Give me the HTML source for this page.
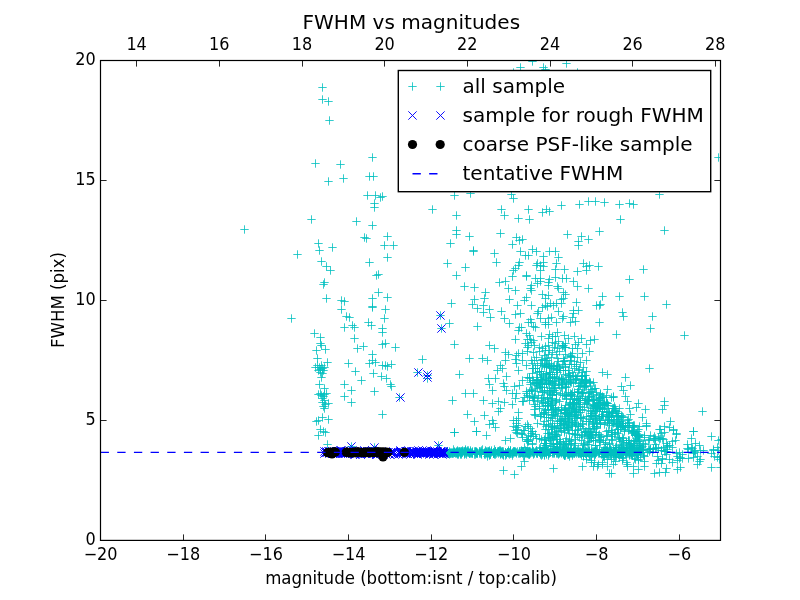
<!DOCTYPE html>
<html><head><meta charset="utf-8"><title>FWHM vs magnitudes</title>
<style>html,body{margin:0;padding:0;background:#fff}svg text{white-space:pre}</style></head>
<body>
<svg width="800" height="600" viewBox="0 0 800 600" style="display:block;will-change:transform">
<rect width="800" height="600" fill="#fff"/>
<defs><clipPath id="ax"><rect x="100.5" y="60.5" width="620" height="480"/></clipPath></defs>
<g clip-path="url(#ax)">
<path d="M318.3 87.5h8.4M322.5 83.3v8.4M368.3 157.5h8.4M372.5 153.3v8.4M371.3 195.5h8.4M375.5 191.3v8.4M428.3 209.5h8.4M432.5 205.3v8.4M383.3 236.5h8.4M387.5 232.3v8.4M293.3 254.5h8.4M297.5 250.3v8.4M372.3 275.5h8.4M376.5 271.3v8.4M337.3 300.5h8.4M341.5 296.3v8.4M337.3 309.5h8.4M341.5 305.3v8.4M340.3 327.5h8.4M344.5 323.3v8.4M378.3 332.5h8.4M382.5 328.3v8.4M312.3 350.5h8.4M316.5 346.3v8.4M391.3 347.5h8.4M395.5 343.3v8.4M368.3 360.5h8.4M372.5 356.3v8.4M387.3 364.5h8.4M391.5 360.3v8.4M319.3 370.5h8.4M323.5 366.3v8.4M317.3 377.5h8.4M321.5 373.3v8.4M386.3 384.5h8.4M390.5 380.3v8.4M370.3 391.5h8.4M374.5 387.3v8.4M319.3 396.5h8.4M323.5 392.3v8.4M321.3 404.5h8.4M325.5 400.3v8.4M423.3 378.5h8.4M427.5 374.3v8.4M316.3 429.5h8.4M320.5 425.3v8.4M584.3 201.5h8.4M588.5 197.3v8.4M525.3 219.5h8.4M529.5 215.3v8.4M452.3 234.5h8.4M456.5 230.3v8.4M563.3 234.5h8.4M567.5 230.3v8.4M508.3 244.5h8.4M512.5 240.3v8.4M492.3 262.5h8.4M496.5 258.3v8.4M480.3 298.5h8.4M484.5 294.3v8.4M615.3 204.5h8.4M619.5 200.3v8.4M625.3 279.5h8.4M629.5 275.3v8.4M619.3 316.5h8.4M623.5 312.3v8.4M598.3 372.5h8.4M602.5 368.3v8.4M621.3 396.5h8.4M625.5 392.3v8.4M634.3 403.5h8.4M638.5 399.3v8.4M642.3 425.5h8.4M646.5 421.3v8.4M655.3 429.5h8.4M659.5 425.3v8.4M654.3 437.5h8.4M658.5 433.3v8.4M655.3 472.5h8.4M659.5 468.3v8.4M707.3 436.5h8.4M711.5 432.3v8.4M672.3 433.5h8.4M676.5 429.3v8.4M683.3 448.5h8.4M687.5 444.3v8.4M673.3 460.5h8.4M677.5 456.3v8.4M668.3 462.5h8.4M672.5 458.3v8.4M640.3 461.5h8.4M644.5 457.3v8.4M655.3 194.5h8.4M659.5 190.3v8.4M562.3 63.5h8.4M566.5 59.3v8.4M455.3 374.5h8.4M459.5 370.3v8.4M450.3 432.5h8.4M454.5 428.3v8.4M499.3 470.5h8.4M503.5 466.3v8.4M513.3 433.5h8.4M517.5 429.3v8.4M423.3 375.5h8.4M427.5 371.3v8.4M513.3 305.5h8.4M517.5 301.3v8.4M538.3 307.5h8.4M542.5 303.3v8.4M554.3 311.5h8.4M558.5 307.3v8.4M496.3 365.5h8.4M500.5 361.3v8.4M522.3 365.5h8.4M526.5 361.3v8.4M499.3 383.5h8.4M503.5 379.3v8.4M479.3 400.5h8.4M483.5 396.3v8.4M508.3 404.5h8.4M512.5 400.3v8.4M491.3 427.5h8.4M495.5 423.3v8.4M501.3 440.5h8.4M505.5 436.3v8.4M521.3 255.5h8.4M525.5 251.3v8.4M551.3 251.5h8.4M555.5 247.3v8.4M509.3 270.5h8.4M513.5 266.3v8.4M536.3 270.5h8.4M540.5 266.3v8.4M585.3 265.5h8.4M589.5 261.3v8.4M522.3 275.5h8.4M526.5 271.3v8.4M551.3 277.5h8.4M555.5 273.3v8.4M527.3 285.5h8.4M531.5 281.3v8.4M553.3 286.5h8.4M557.5 282.3v8.4M541.3 298.5h8.4M545.5 294.3v8.4M522.3 297.5h8.4M526.5 293.3v8.4M514.3 330.5h8.4M518.5 326.3v8.4M526.3 319.5h8.4M530.5 315.3v8.4M524.3 345.5h8.4M528.5 341.3v8.4M541.3 324.5h8.4M545.5 320.3v8.4M537.3 336.5h8.4M541.5 332.3v8.4M541.3 346.5h8.4M545.5 342.3v8.4M553.3 348.5h8.4M557.5 344.3v8.4M504.3 354.5h8.4M508.5 350.3v8.4M529.3 352.5h8.4M533.5 348.3v8.4M552.3 354.5h8.4M556.5 350.3v8.4M572.3 302.5h8.4M576.5 298.3v8.4M574.3 310.5h8.4M578.5 306.3v8.4M566.3 322.5h8.4M570.5 318.3v8.4M574.3 342.5h8.4M578.5 338.3v8.4M565.3 404.5h8.4M569.5 400.3v8.4M549.3 412.5h8.4M553.5 408.3v8.4M544.3 401.5h8.4M548.5 397.3v8.4M573.3 357.5h8.4M577.5 353.3v8.4M580.3 402.5h8.4M584.5 398.3v8.4M556.3 425.5h8.4M560.5 421.3v8.4M635.3 426.5h8.4M639.5 422.3v8.4M548.3 381.5h8.4M552.5 377.3v8.4M590.3 455.5h8.4M594.5 451.3v8.4M578.3 393.5h8.4M582.5 389.3v8.4M542.3 443.5h8.4M546.5 439.3v8.4M515.3 385.5h8.4M519.5 381.3v8.4M570.3 402.5h8.4M574.5 398.3v8.4M640.3 456.5h8.4M644.5 452.3v8.4M540.3 392.5h8.4M544.5 388.3v8.4M586.3 382.5h8.4M590.5 378.3v8.4M564.3 430.5h8.4M568.5 426.3v8.4M514.3 453.5h8.4M518.5 449.3v8.4M567.3 364.5h8.4M571.5 360.3v8.4M607.3 397.5h8.4M611.5 393.3v8.4M566.3 381.5h8.4M570.5 377.3v8.4M542.3 379.5h8.4M546.5 375.3v8.4M589.3 394.5h8.4M593.5 390.3v8.4M585.3 381.5h8.4M589.5 377.3v8.4M618.3 460.5h8.4M622.5 456.3v8.4M606.3 455.5h8.4M610.5 451.3v8.4M570.3 392.5h8.4M574.5 388.3v8.4M546.3 449.5h8.4M550.5 445.3v8.4M574.3 370.5h8.4M578.5 366.3v8.4M539.3 413.5h8.4M543.5 409.3v8.4M612.3 425.5h8.4M616.5 421.3v8.4M549.3 444.5h8.4M553.5 440.3v8.4M587.3 462.5h8.4M591.5 458.3v8.4M615.3 423.5h8.4M619.5 419.3v8.4M624.3 430.5h8.4M628.5 426.3v8.4M585.3 393.5h8.4M589.5 389.3v8.4M636.3 457.5h8.4M640.5 453.3v8.4M590.3 415.5h8.4M594.5 411.3v8.4M562.3 399.5h8.4M566.5 395.3v8.4M543.3 390.5h8.4M547.5 386.3v8.4M577.3 375.5h8.4M581.5 371.3v8.4M584.3 400.5h8.4M588.5 396.3v8.4M564.3 427.5h8.4M568.5 423.3v8.4M561.3 413.5h8.4M565.5 409.3v8.4M561.3 421.5h8.4M565.5 417.3v8.4M596.3 437.5h8.4M600.5 433.3v8.4M635.3 449.5h8.4M639.5 445.3v8.4M624.3 440.5h8.4M628.5 436.3v8.4M527.3 360.5h8.4M531.5 356.3v8.4M589.3 413.5h8.4M593.5 409.3v8.4M614.3 437.5h8.4M618.5 433.3v8.4M542.3 383.5h8.4M546.5 379.3v8.4M546.3 372.5h8.4M550.5 368.3v8.4M565.3 413.5h8.4M569.5 409.3v8.4M628.3 426.5h8.4M632.5 422.3v8.4M558.3 379.5h8.4M562.5 375.3v8.4M639.3 452.5h8.4M643.5 448.3v8.4M627.3 443.5h8.4M631.5 439.3v8.4M577.3 452.5h8.4M581.5 448.3v8.4M550.3 448.5h8.4M554.5 444.3v8.4M548.3 398.5h8.4M552.5 394.3v8.4M591.3 454.5h8.4M595.5 450.3v8.4M586.3 383.5h8.4M590.5 379.3v8.4M574.3 404.5h8.4M578.5 400.3v8.4M572.3 403.5h8.4M576.5 399.3v8.4M578.3 372.5h8.4M582.5 368.3v8.4M614.3 413.5h8.4M618.5 409.3v8.4M571.3 411.5h8.4M575.5 407.3v8.4M564.3 443.5h8.4M568.5 439.3v8.4M548.3 405.5h8.4M552.5 401.3v8.4M550.3 434.5h8.4M554.5 430.3v8.4M553.3 443.5h8.4M557.5 439.3v8.4M596.3 407.5h8.4M600.5 403.3v8.4M628.3 455.5h8.4M632.5 451.3v8.4M566.3 402.5h8.4M570.5 398.3v8.4M526.3 382.5h8.4M530.5 378.3v8.4M567.3 443.5h8.4M571.5 439.3v8.4M575.3 386.5h8.4M579.5 382.3v8.4M595.3 440.5h8.4M599.5 436.3v8.4M629.3 446.5h8.4M633.5 442.3v8.4M555.3 401.5h8.4M559.5 397.3v8.4M558.3 346.5h8.4M562.5 342.3v8.4M538.3 381.5h8.4M542.5 377.3v8.4M598.3 411.5h8.4M602.5 407.3v8.4M553.3 444.5h8.4M557.5 440.3v8.4M573.3 452.5h8.4M577.5 448.3v8.4M588.3 389.5h8.4M592.5 385.3v8.4M616.3 421.5h8.4M620.5 417.3v8.4M543.3 397.5h8.4M547.5 393.3v8.4M577.3 455.5h8.4M581.5 451.3v8.4M559.3 379.5h8.4M563.5 375.3v8.4M548.3 403.5h8.4M552.5 399.3v8.4M582.3 380.5h8.4M586.5 376.3v8.4M528.3 444.5h8.4M532.5 440.3v8.4M559.3 345.5h8.4M563.5 341.3v8.4M577.3 380.5h8.4M581.5 376.3v8.4M593.3 402.5h8.4M597.5 398.3v8.4M550.3 436.5h8.4M554.5 432.3v8.4M564.3 375.5h8.4M568.5 371.3v8.4M538.3 402.5h8.4M542.5 398.3v8.4M533.3 380.5h8.4M537.5 376.3v8.4M564.3 419.5h8.4M568.5 415.3v8.4M634.3 469.5h8.4M638.5 465.3v8.4M636.3 445.5h8.4M640.5 441.3v8.4M596.3 424.5h8.4M600.5 420.3v8.4M578.3 392.5h8.4M582.5 388.3v8.4M528.3 431.5h8.4M532.5 427.3v8.4M524.3 441.5h8.4M528.5 437.3v8.4M629.3 431.5h8.4M633.5 427.3v8.4M529.3 368.5h8.4M533.5 364.3v8.4M621.3 427.5h8.4M625.5 423.3v8.4M574.3 412.5h8.4M578.5 408.3v8.4M540.3 412.5h8.4M544.5 408.3v8.4M595.3 434.5h8.4M599.5 430.3v8.4M540.3 387.5h8.4M544.5 383.3v8.4M568.3 433.5h8.4M572.5 429.3v8.4M591.3 445.5h8.4M595.5 441.3v8.4M629.3 466.5h8.4M633.5 462.3v8.4M566.3 376.5h8.4M570.5 372.3v8.4M588.3 453.5h8.4M592.5 449.3v8.4M555.3 385.5h8.4M559.5 381.3v8.4M592.3 426.5h8.4M596.5 422.3v8.4M595.3 407.5h8.4M599.5 403.3v8.4M525.3 377.5h8.4M529.5 373.3v8.4M563.3 422.5h8.4M567.5 418.3v8.4M556.3 393.5h8.4M560.5 389.3v8.4M567.3 412.5h8.4M571.5 408.3v8.4M571.3 443.5h8.4M575.5 439.3v8.4M577.3 379.5h8.4M581.5 375.3v8.4M548.3 382.5h8.4M552.5 378.3v8.4M528.3 390.5h8.4M532.5 386.3v8.4M554.3 410.5h8.4M558.5 406.3v8.4M613.3 426.5h8.4M617.5 422.3v8.4M624.3 423.5h8.4M628.5 419.3v8.4M573.3 398.5h8.4M577.5 394.3v8.4M631.3 435.5h8.4M635.5 431.3v8.4M536.3 416.5h8.4M540.5 412.3v8.4M537.3 414.5h8.4M541.5 410.3v8.4M522.3 393.5h8.4M526.5 389.3v8.4M567.3 394.5h8.4M571.5 390.3v8.4M615.3 438.5h8.4M619.5 434.3v8.4M634.3 435.5h8.4M638.5 431.3v8.4M540.3 439.5h8.4M544.5 435.3v8.4M580.3 387.5h8.4M584.5 383.3v8.4M596.3 405.5h8.4M600.5 401.3v8.4M595.3 439.5h8.4M599.5 435.3v8.4M623.3 425.5h8.4M627.5 421.3v8.4M556.3 421.5h8.4M560.5 417.3v8.4M552.3 436.5h8.4M556.5 432.3v8.4M584.3 410.5h8.4M588.5 406.3v8.4M585.3 351.5h8.4M589.5 347.3v8.4M526.3 436.5h8.4M530.5 432.3v8.4M576.3 417.5h8.4M580.5 413.3v8.4M579.3 418.5h8.4M583.5 414.3v8.4M608.3 440.5h8.4M612.5 436.3v8.4M582.3 379.5h8.4M586.5 375.3v8.4M549.3 446.5h8.4M553.5 442.3v8.4M541.3 402.5h8.4M545.5 398.3v8.4M541.3 443.5h8.4M545.5 439.3v8.4M522.3 391.5h8.4M526.5 387.3v8.4M585.3 435.5h8.4M589.5 431.3v8.4M528.3 368.5h8.4M532.5 364.3v8.4M572.3 423.5h8.4M576.5 419.3v8.4M542.3 367.5h8.4M546.5 363.3v8.4M571.3 430.5h8.4M575.5 426.3v8.4M620.3 431.5h8.4M624.5 427.3v8.4M610.3 420.5h8.4M614.5 416.3v8.4M567.3 356.5h8.4M571.5 352.3v8.4M560.3 430.5h8.4M564.5 426.3v8.4M581.3 386.5h8.4M585.5 382.3v8.4M536.3 387.5h8.4M540.5 383.3v8.4M593.3 408.5h8.4M597.5 404.3v8.4M543.3 360.5h8.4M547.5 356.3v8.4M560.3 455.5h8.4M564.5 451.3v8.4M605.3 423.5h8.4M609.5 419.3v8.4M511.3 398.5h8.4M515.5 394.3v8.4M575.3 398.5h8.4M579.5 394.3v8.4M627.3 431.5h8.4M631.5 427.3v8.4M574.3 425.5h8.4M578.5 421.3v8.4M561.3 452.5h8.4M565.5 448.3v8.4M556.3 451.5h8.4M560.5 447.3v8.4M489.3 453.5h8.4M493.5 449.3v8.4M504.3 451.5h8.4M508.5 447.3v8.4M615.3 452.5h8.4M619.5 448.3v8.4M628.3 453.5h8.4M632.5 449.3v8.4M476.3 453.5h8.4M480.5 449.3v8.4M458.3 452.5h8.4M462.5 448.3v8.4M502.3 453.5h8.4M506.5 449.3v8.4M546.3 452.5h8.4M550.5 448.3v8.4M591.3 451.5h8.4M595.5 447.3v8.4M606.3 452.5h8.4M610.5 448.3v8.4M562.3 452.5h8.4M566.5 448.3v8.4M564.3 454.5h8.4M568.5 450.3v8.4M606.3 451.5h8.4M610.5 447.3v8.4M629.3 452.5h8.4M633.5 448.3v8.4M463.3 451.5h8.4M467.5 447.3v8.4M541.3 452.5h8.4M545.5 448.3v8.4M532.3 452.5h8.4M536.5 448.3v8.4M521.3 453.5h8.4M525.5 449.3v8.4M503.3 452.5h8.4M507.5 448.3v8.4M510.3 451.5h8.4M514.5 447.3v8.4M506.3 453.5h8.4M510.5 449.3v8.4M465.3 453.5h8.4M469.5 449.3v8.4M619.3 451.5h8.4M623.5 447.3v8.4M606.3 449.5h8.4M610.5 445.3v8.4M472.3 453.5h8.4M476.5 449.3v8.4M555.3 451.5h8.4M559.5 447.3v8.4M442.3 451.5h8.4M446.5 447.3v8.4M452.3 452.5h8.4M456.5 448.3v8.4M603.3 452.5h8.4M607.5 448.3v8.4M574.3 453.5h8.4M578.5 449.3v8.4M575.3 453.5h8.4M579.5 449.3v8.4M447.3 452.5h8.4M451.5 448.3v8.4M528.3 449.5h8.4M532.5 445.3v8.4M457.3 454.5h8.4M461.5 450.3v8.4M520.3 455.5h8.4M524.5 451.3v8.4M619.3 450.5h8.4M623.5 446.3v8.4M530.3 452.5h8.4M534.5 448.3v8.4M460.3 452.5h8.4M464.5 448.3v8.4M460.3 452.5h8.4M464.5 448.3v8.4M506.3 453.5h8.4M510.5 449.3v8.4M489.3 452.5h8.4M493.5 448.3v8.4M617.3 450.5h8.4M621.5 446.3v8.4M453.3 454.5h8.4M457.5 450.3v8.4M525.3 451.5h8.4M529.5 447.3v8.4M570.3 453.5h8.4M574.5 449.3v8.4M541.3 451.5h8.4M545.5 447.3v8.4M481.3 454.5h8.4M485.5 450.3v8.4M612.3 453.5h8.4M616.5 449.3v8.4M582.3 452.5h8.4M586.5 448.3v8.4M606.3 452.5h8.4M610.5 448.3v8.4M565.3 452.5h8.4M569.5 448.3v8.4M453.3 452.5h8.4M457.5 448.3v8.4M504.3 452.5h8.4M508.5 448.3v8.4M633.3 454.5h8.4M637.5 450.3v8.4M504.3 452.5h8.4M508.5 448.3v8.4M579.3 449.5h8.4M583.5 445.3v8.4M557.3 453.5h8.4M561.5 449.3v8.4M505.3 452.5h8.4M509.5 448.3v8.4M457.3 451.5h8.4M461.5 447.3v8.4M482.3 453.5h8.4M486.5 449.3v8.4M454.3 451.5h8.4M458.5 447.3v8.4M518.3 451.5h8.4M522.5 447.3v8.4M602.3 452.5h8.4M606.5 448.3v8.4M464.3 452.5h8.4M468.5 448.3v8.4M584.3 451.5h8.4M588.5 447.3v8.4M571.3 452.5h8.4M575.5 448.3v8.4M582.3 451.5h8.4M586.5 447.3v8.4M630.3 452.5h8.4M634.5 448.3v8.4M539.3 452.5h8.4M543.5 448.3v8.4M456.3 451.5h8.4M460.5 447.3v8.4M621.3 451.5h8.4M625.5 447.3v8.4M558.3 452.5h8.4M562.5 448.3v8.4M532.3 452.5h8.4M536.5 448.3v8.4M549.3 451.5h8.4M553.5 447.3v8.4M579.3 454.5h8.4M583.5 450.3v8.4M590.3 451.5h8.4M594.5 447.3v8.4M561.3 453.5h8.4M565.5 449.3v8.4M629.3 449.5h8.4M633.5 445.3v8.4M592.3 452.5h8.4M596.5 448.3v8.4M475.3 451.5h8.4M479.5 447.3v8.4M621.3 451.5h8.4M625.5 447.3v8.4M512.3 452.5h8.4M516.5 448.3v8.4M603.3 451.5h8.4M607.5 447.3v8.4M485.3 453.5h8.4M489.5 449.3v8.4M579.3 453.5h8.4M583.5 449.3v8.4M606.3 452.5h8.4M610.5 448.3v8.4M567.3 452.5h8.4M571.5 448.3v8.4M598.3 453.5h8.4M602.5 449.3v8.4M494.3 451.5h8.4M498.5 447.3v8.4M633.3 452.5h8.4M637.5 448.3v8.4M453.3 451.5h8.4M457.5 447.3v8.4M555.3 452.5h8.4M559.5 448.3v8.4M465.3 453.5h8.4M469.5 449.3v8.4M484.3 451.5h8.4M488.5 447.3v8.4M472.3 451.5h8.4M476.5 447.3v8.4M555.3 453.5h8.4M559.5 449.3v8.4M585.3 454.5h8.4M589.5 450.3v8.4M605.3 450.5h8.4M609.5 446.3v8.4M485.3 455.5h8.4M489.5 451.3v8.4M595.3 451.5h8.4M599.5 447.3v8.4M503.3 452.5h8.4M507.5 448.3v8.4M638.3 446.5h8.4M642.5 442.3v8.4M644.3 449.5h8.4M648.5 445.3v8.4M654.3 460.5h8.4M658.5 456.3v8.4M646.3 448.5h8.4M650.5 444.3v8.4M642.3 426.5h8.4M646.5 422.3v8.4M659.3 447.5h8.4M663.5 443.3v8.4M672.3 453.5h8.4M676.5 449.3v8.4M658.3 458.5h8.4M662.5 454.3v8.4M689.3 457.5h8.4M693.5 453.3v8.4M695.3 461.5h8.4M699.5 457.3v8.4M707.3 453.5h8.4M711.5 449.3v8.4M709.3 449.5h8.4M713.5 445.3v8.4M323.3 444.5h8.4M327.5 440.3v8.4" stroke="#00bfbf" stroke-width="0.8" fill="none"/>
<path d="M318.3 99.5h8.4M322.5 95.3v8.4M339.3 178.5h8.4M343.5 174.3v8.4M376.3 197.5h8.4M380.5 193.3v8.4M307.3 219.5h8.4M311.5 215.3v8.4M314.3 243.5h8.4M318.5 239.3v8.4M383.3 257.5h8.4M387.5 253.3v8.4M374.3 274.5h8.4M378.5 270.3v8.4M340.3 301.5h8.4M344.5 297.3v8.4M381.3 309.5h8.4M385.5 305.3v8.4M348.3 325.5h8.4M352.5 321.3v8.4M310.3 333.5h8.4M314.5 329.3v8.4M321.3 349.5h8.4M325.5 345.3v8.4M368.3 354.5h8.4M372.5 350.3v8.4M371.3 362.5h8.4M375.5 358.3v8.4M311.3 367.5h8.4M315.5 363.3v8.4M316.3 372.5h8.4M320.5 368.3v8.4M351.3 371.5h8.4M355.5 367.3v8.4M387.3 386.5h8.4M391.5 382.3v8.4M340.3 396.5h8.4M344.5 392.3v8.4M320.3 394.5h8.4M324.5 390.3v8.4M324.3 403.5h8.4M328.5 399.3v8.4M395.3 397.5h8.4M399.5 393.3v8.4M319.3 431.5h8.4M323.5 427.3v8.4M591.3 201.5h8.4M595.5 197.3v8.4M538.3 212.5h8.4M542.5 208.3v8.4M465.3 236.5h8.4M469.5 232.3v8.4M577.3 236.5h8.4M581.5 232.3v8.4M469.3 250.5h8.4M473.5 246.3v8.4M452.3 275.5h8.4M456.5 271.3v8.4M470.3 299.5h8.4M474.5 295.3v8.4M625.3 203.5h8.4M629.5 199.3v8.4M598.3 296.5h8.4M602.5 292.3v8.4M648.3 316.5h8.4M652.5 312.3v8.4M603.3 374.5h8.4M607.5 370.3v8.4M609.3 396.5h8.4M613.5 392.3v8.4M641.3 409.5h8.4M645.5 405.3v8.4M666.3 421.5h8.4M670.5 417.3v8.4M657.3 433.5h8.4M661.5 429.3v8.4M623.3 401.5h8.4M627.5 397.3v8.4M661.3 472.5h8.4M665.5 468.3v8.4M714.3 440.5h8.4M718.5 436.3v8.4M671.3 440.5h8.4M675.5 436.3v8.4M687.3 447.5h8.4M691.5 443.3v8.4M676.3 467.5h8.4M680.5 463.3v8.4M657.3 463.5h8.4M661.5 459.3v8.4M450.3 195.5h8.4M454.5 191.3v8.4M509.3 72.5h8.4M513.5 68.3v8.4M573.3 72.5h8.4M577.5 68.3v8.4M461.3 393.5h8.4M465.5 389.3v8.4M472.3 431.5h8.4M476.5 427.3v8.4M510.3 474.5h8.4M514.5 470.3v8.4M520.3 430.5h8.4M524.5 426.3v8.4M479.3 305.5h8.4M483.5 301.3v8.4M511.3 314.5h8.4M515.5 310.3v8.4M541.3 305.5h8.4M545.5 301.3v8.4M485.3 345.5h8.4M489.5 341.3v8.4M498.3 368.5h8.4M502.5 364.3v8.4M484.3 378.5h8.4M488.5 374.3v8.4M502.3 390.5h8.4M506.5 386.3v8.4M488.3 403.5h8.4M492.5 399.3v8.4M519.3 401.5h8.4M523.5 397.3v8.4M509.3 420.5h8.4M513.5 416.3v8.4M506.3 438.5h8.4M510.5 434.3v8.4M524.3 255.5h8.4M528.5 251.3v8.4M554.3 257.5h8.4M558.5 253.3v8.4M533.3 263.5h8.4M537.5 259.3v8.4M552.3 263.5h8.4M556.5 259.3v8.4M594.3 266.5h8.4M598.5 262.3v8.4M522.3 276.5h8.4M526.5 272.3v8.4M558.3 278.5h8.4M562.5 274.3v8.4M526.3 288.5h8.4M530.5 284.3v8.4M554.3 288.5h8.4M558.5 284.3v8.4M559.3 292.5h8.4M563.5 288.3v8.4M520.3 300.5h8.4M524.5 296.3v8.4M511.3 339.5h8.4M515.5 335.3v8.4M522.3 333.5h8.4M526.5 329.3v8.4M527.3 342.5h8.4M531.5 338.3v8.4M544.3 324.5h8.4M548.5 320.3v8.4M545.3 334.5h8.4M549.5 330.3v8.4M544.3 345.5h8.4M548.5 341.3v8.4M541.3 350.5h8.4M545.5 346.3v8.4M514.3 353.5h8.4M518.5 349.3v8.4M535.3 351.5h8.4M539.5 347.3v8.4M555.3 351.5h8.4M559.5 347.3v8.4M557.3 303.5h8.4M561.5 299.3v8.4M569.3 313.5h8.4M573.5 309.3v8.4M595.3 322.5h8.4M599.5 318.3v8.4M571.3 344.5h8.4M575.5 340.3v8.4M562.3 395.5h8.4M566.5 391.3v8.4M616.3 426.5h8.4M620.5 422.3v8.4M601.3 442.5h8.4M605.5 438.3v8.4M594.3 464.5h8.4M598.5 460.3v8.4M562.3 398.5h8.4M566.5 394.3v8.4M585.3 419.5h8.4M589.5 415.3v8.4M585.3 441.5h8.4M589.5 437.3v8.4M594.3 435.5h8.4M598.5 431.3v8.4M603.3 435.5h8.4M607.5 431.3v8.4M613.3 433.5h8.4M617.5 429.3v8.4M600.3 404.5h8.4M604.5 400.3v8.4M550.3 390.5h8.4M554.5 386.3v8.4M562.3 448.5h8.4M566.5 444.3v8.4M535.3 408.5h8.4M539.5 404.3v8.4M555.3 428.5h8.4M559.5 424.3v8.4M530.3 396.5h8.4M534.5 392.3v8.4M560.3 360.5h8.4M564.5 356.3v8.4M558.3 395.5h8.4M562.5 391.3v8.4M630.3 443.5h8.4M634.5 439.3v8.4M602.3 454.5h8.4M606.5 450.3v8.4M564.3 449.5h8.4M568.5 445.3v8.4M540.3 364.5h8.4M544.5 360.3v8.4M548.3 446.5h8.4M552.5 442.3v8.4M556.3 441.5h8.4M560.5 437.3v8.4M633.3 441.5h8.4M637.5 437.3v8.4M568.3 392.5h8.4M572.5 388.3v8.4M616.3 453.5h8.4M620.5 449.3v8.4M541.3 429.5h8.4M545.5 425.3v8.4M542.3 373.5h8.4M546.5 369.3v8.4M574.3 400.5h8.4M578.5 396.3v8.4M546.3 420.5h8.4M550.5 416.3v8.4M568.3 399.5h8.4M572.5 395.3v8.4M578.3 424.5h8.4M582.5 420.3v8.4M576.3 362.5h8.4M580.5 358.3v8.4M605.3 444.5h8.4M609.5 440.3v8.4M575.3 451.5h8.4M579.5 447.3v8.4M511.3 430.5h8.4M515.5 426.3v8.4M578.3 435.5h8.4M582.5 431.3v8.4M614.3 416.5h8.4M618.5 412.3v8.4M599.3 404.5h8.4M603.5 400.3v8.4M598.3 453.5h8.4M602.5 449.3v8.4M580.3 386.5h8.4M584.5 382.3v8.4M531.3 368.5h8.4M535.5 364.3v8.4M599.3 456.5h8.4M603.5 452.3v8.4M525.3 391.5h8.4M529.5 387.3v8.4M597.3 416.5h8.4M601.5 412.3v8.4M554.3 361.5h8.4M558.5 357.3v8.4M618.3 425.5h8.4M622.5 421.3v8.4M598.3 462.5h8.4M602.5 458.3v8.4M602.3 395.5h8.4M606.5 391.3v8.4M533.3 365.5h8.4M537.5 361.3v8.4M587.3 415.5h8.4M591.5 411.3v8.4M584.3 421.5h8.4M588.5 417.3v8.4M545.3 384.5h8.4M549.5 380.3v8.4M595.3 453.5h8.4M599.5 449.3v8.4M605.3 443.5h8.4M609.5 439.3v8.4M557.3 410.5h8.4M561.5 406.3v8.4M635.3 440.5h8.4M639.5 436.3v8.4M582.3 403.5h8.4M586.5 399.3v8.4M547.3 366.5h8.4M551.5 362.3v8.4M542.3 445.5h8.4M546.5 441.3v8.4M546.3 378.5h8.4M550.5 374.3v8.4M553.3 421.5h8.4M557.5 417.3v8.4M585.3 428.5h8.4M589.5 424.3v8.4M529.3 400.5h8.4M533.5 396.3v8.4M537.3 451.5h8.4M541.5 447.3v8.4M628.3 447.5h8.4M632.5 443.3v8.4M536.3 363.5h8.4M540.5 359.3v8.4M530.3 414.5h8.4M534.5 410.3v8.4M589.3 466.5h8.4M593.5 462.3v8.4M560.3 347.5h8.4M564.5 343.3v8.4M547.3 404.5h8.4M551.5 400.3v8.4M581.3 431.5h8.4M585.5 427.3v8.4M549.3 390.5h8.4M553.5 386.3v8.4M565.3 433.5h8.4M569.5 429.3v8.4M573.3 435.5h8.4M577.5 431.3v8.4M603.3 412.5h8.4M607.5 408.3v8.4M564.3 392.5h8.4M568.5 388.3v8.4M618.3 426.5h8.4M622.5 422.3v8.4M634.3 436.5h8.4M638.5 432.3v8.4M548.3 423.5h8.4M552.5 419.3v8.4M564.3 416.5h8.4M568.5 412.3v8.4M580.3 436.5h8.4M584.5 432.3v8.4M544.3 380.5h8.4M548.5 376.3v8.4M567.3 425.5h8.4M571.5 421.3v8.4M588.3 424.5h8.4M592.5 420.3v8.4M568.3 353.5h8.4M572.5 349.3v8.4M603.3 466.5h8.4M607.5 462.3v8.4M605.3 412.5h8.4M609.5 408.3v8.4M542.3 414.5h8.4M546.5 410.3v8.4M530.3 404.5h8.4M534.5 400.3v8.4M576.3 426.5h8.4M580.5 422.3v8.4M540.3 440.5h8.4M544.5 436.3v8.4M590.3 452.5h8.4M594.5 448.3v8.4M548.3 437.5h8.4M552.5 433.3v8.4M576.3 410.5h8.4M580.5 406.3v8.4M572.3 379.5h8.4M576.5 375.3v8.4M603.3 420.5h8.4M607.5 416.3v8.4M622.3 442.5h8.4M626.5 438.3v8.4M573.3 348.5h8.4M577.5 344.3v8.4M617.3 451.5h8.4M621.5 447.3v8.4M533.3 372.5h8.4M537.5 368.3v8.4M567.3 410.5h8.4M571.5 406.3v8.4M564.3 383.5h8.4M568.5 379.3v8.4M540.3 366.5h8.4M544.5 362.3v8.4M606.3 449.5h8.4M610.5 445.3v8.4M584.3 453.5h8.4M588.5 449.3v8.4M631.3 440.5h8.4M635.5 436.3v8.4M573.3 417.5h8.4M577.5 413.3v8.4M623.3 447.5h8.4M627.5 443.3v8.4M570.3 416.5h8.4M574.5 412.3v8.4M555.3 378.5h8.4M559.5 374.3v8.4M540.3 455.5h8.4M544.5 451.3v8.4M624.3 440.5h8.4M628.5 436.3v8.4M589.3 382.5h8.4M593.5 378.3v8.4M602.3 402.5h8.4M606.5 398.3v8.4M590.3 428.5h8.4M594.5 424.3v8.4M613.3 416.5h8.4M617.5 412.3v8.4M544.3 429.5h8.4M548.5 425.3v8.4M560.3 427.5h8.4M564.5 423.3v8.4M526.3 384.5h8.4M530.5 380.3v8.4M622.3 462.5h8.4M626.5 458.3v8.4M548.3 377.5h8.4M552.5 373.3v8.4M562.3 413.5h8.4M566.5 409.3v8.4M607.3 430.5h8.4M611.5 426.3v8.4M629.3 430.5h8.4M633.5 426.3v8.4M514.3 425.5h8.4M518.5 421.3v8.4M559.3 424.5h8.4M563.5 420.3v8.4M567.3 440.5h8.4M571.5 436.3v8.4M591.3 445.5h8.4M595.5 441.3v8.4M612.3 411.5h8.4M616.5 407.3v8.4M560.3 451.5h8.4M564.5 447.3v8.4M572.3 364.5h8.4M576.5 360.3v8.4M551.3 436.5h8.4M555.5 432.3v8.4M612.3 415.5h8.4M616.5 411.3v8.4M638.3 450.5h8.4M642.5 446.3v8.4M614.3 429.5h8.4M618.5 425.3v8.4M620.3 429.5h8.4M624.5 425.3v8.4M622.3 448.5h8.4M626.5 444.3v8.4M557.3 379.5h8.4M561.5 375.3v8.4M608.3 413.5h8.4M612.5 409.3v8.4M591.3 406.5h8.4M595.5 402.3v8.4M563.3 414.5h8.4M567.5 410.3v8.4M590.3 388.5h8.4M594.5 384.3v8.4M611.3 410.5h8.4M615.5 406.3v8.4M544.3 382.5h8.4M548.5 378.3v8.4M618.3 458.5h8.4M622.5 454.3v8.4M569.3 383.5h8.4M573.5 379.3v8.4M569.3 375.5h8.4M573.5 371.3v8.4M570.3 368.5h8.4M574.5 364.3v8.4M600.3 402.5h8.4M604.5 398.3v8.4M626.3 446.5h8.4M630.5 442.3v8.4M550.3 414.5h8.4M554.5 410.3v8.4M609.3 419.5h8.4M613.5 415.3v8.4M561.3 394.5h8.4M565.5 390.3v8.4M566.3 403.5h8.4M570.5 399.3v8.4M523.3 395.5h8.4M527.5 391.3v8.4M534.3 382.5h8.4M538.5 378.3v8.4M598.3 397.5h8.4M602.5 393.3v8.4M574.3 429.5h8.4M578.5 425.3v8.4M538.3 382.5h8.4M542.5 378.3v8.4M532.3 438.5h8.4M536.5 434.3v8.4M549.3 414.5h8.4M553.5 410.3v8.4M612.3 447.5h8.4M616.5 443.3v8.4M629.3 473.5h8.4M633.5 469.3v8.4M537.3 380.5h8.4M541.5 376.3v8.4M614.3 419.5h8.4M618.5 415.3v8.4M522.3 439.5h8.4M526.5 435.3v8.4M607.3 421.5h8.4M611.5 417.3v8.4M596.3 423.5h8.4M600.5 419.3v8.4M584.3 397.5h8.4M588.5 393.3v8.4M576.3 400.5h8.4M580.5 396.3v8.4M544.3 437.5h8.4M548.5 433.3v8.4M569.3 405.5h8.4M573.5 401.3v8.4M608.3 436.5h8.4M612.5 432.3v8.4M520.3 397.5h8.4M524.5 393.3v8.4M539.3 376.5h8.4M543.5 372.3v8.4M568.3 404.5h8.4M572.5 400.3v8.4M601.3 405.5h8.4M605.5 401.3v8.4M594.3 453.5h8.4M598.5 449.3v8.4M501.3 455.5h8.4M505.5 451.3v8.4M614.3 450.5h8.4M618.5 446.3v8.4M628.3 455.5h8.4M632.5 451.3v8.4M498.3 451.5h8.4M502.5 447.3v8.4M458.3 451.5h8.4M462.5 447.3v8.4M578.3 450.5h8.4M582.5 446.3v8.4M467.3 452.5h8.4M471.5 448.3v8.4M483.3 453.5h8.4M487.5 449.3v8.4M624.3 453.5h8.4M628.5 449.3v8.4M522.3 453.5h8.4M526.5 449.3v8.4M566.3 452.5h8.4M570.5 448.3v8.4M574.3 448.5h8.4M578.5 444.3v8.4M523.3 452.5h8.4M527.5 448.3v8.4M601.3 452.5h8.4M605.5 448.3v8.4M531.3 451.5h8.4M535.5 447.3v8.4M540.3 451.5h8.4M544.5 447.3v8.4M633.3 454.5h8.4M637.5 450.3v8.4M525.3 452.5h8.4M529.5 448.3v8.4M601.3 451.5h8.4M605.5 447.3v8.4M540.3 454.5h8.4M544.5 450.3v8.4M482.3 452.5h8.4M486.5 448.3v8.4M496.3 450.5h8.4M500.5 446.3v8.4M499.3 451.5h8.4M503.5 447.3v8.4M571.3 451.5h8.4M575.5 447.3v8.4M495.3 450.5h8.4M499.5 446.3v8.4M597.3 451.5h8.4M601.5 447.3v8.4M470.3 451.5h8.4M474.5 447.3v8.4M455.3 452.5h8.4M459.5 448.3v8.4M490.3 449.5h8.4M494.5 445.3v8.4M465.3 452.5h8.4M469.5 448.3v8.4M461.3 451.5h8.4M465.5 447.3v8.4M491.3 451.5h8.4M495.5 447.3v8.4M535.3 452.5h8.4M539.5 448.3v8.4M538.3 451.5h8.4M542.5 447.3v8.4M538.3 451.5h8.4M542.5 447.3v8.4M525.3 452.5h8.4M529.5 448.3v8.4M633.3 453.5h8.4M637.5 449.3v8.4M569.3 450.5h8.4M573.5 446.3v8.4M496.3 453.5h8.4M500.5 449.3v8.4M448.3 452.5h8.4M452.5 448.3v8.4M564.3 453.5h8.4M568.5 449.3v8.4M629.3 451.5h8.4M633.5 447.3v8.4M618.3 453.5h8.4M622.5 449.3v8.4M570.3 453.5h8.4M574.5 449.3v8.4M585.3 453.5h8.4M589.5 449.3v8.4M602.3 451.5h8.4M606.5 447.3v8.4M512.3 453.5h8.4M516.5 449.3v8.4M485.3 452.5h8.4M489.5 448.3v8.4M525.3 454.5h8.4M529.5 450.3v8.4M572.3 453.5h8.4M576.5 449.3v8.4M517.3 451.5h8.4M521.5 447.3v8.4M553.3 453.5h8.4M557.5 449.3v8.4M451.3 452.5h8.4M455.5 448.3v8.4M598.3 451.5h8.4M602.5 447.3v8.4M485.3 454.5h8.4M489.5 450.3v8.4M536.3 453.5h8.4M540.5 449.3v8.4M548.3 452.5h8.4M552.5 448.3v8.4M521.3 450.5h8.4M525.5 446.3v8.4M610.3 451.5h8.4M614.5 447.3v8.4M592.3 452.5h8.4M596.5 448.3v8.4M617.3 453.5h8.4M621.5 449.3v8.4M484.3 453.5h8.4M488.5 449.3v8.4M609.3 450.5h8.4M613.5 446.3v8.4M462.3 454.5h8.4M466.5 450.3v8.4M569.3 451.5h8.4M573.5 447.3v8.4M506.3 450.5h8.4M510.5 446.3v8.4M497.3 452.5h8.4M501.5 448.3v8.4M529.3 454.5h8.4M533.5 450.3v8.4M551.3 450.5h8.4M555.5 446.3v8.4M454.3 453.5h8.4M458.5 449.3v8.4M623.3 452.5h8.4M627.5 448.3v8.4M614.3 451.5h8.4M618.5 447.3v8.4M473.3 453.5h8.4M477.5 449.3v8.4M493.3 452.5h8.4M497.5 448.3v8.4M626.3 451.5h8.4M630.5 447.3v8.4M634.3 454.5h8.4M638.5 450.3v8.4M598.3 453.5h8.4M602.5 449.3v8.4M600.3 451.5h8.4M604.5 447.3v8.4M509.3 451.5h8.4M513.5 447.3v8.4M528.3 452.5h8.4M532.5 448.3v8.4M457.3 453.5h8.4M461.5 449.3v8.4M468.3 453.5h8.4M472.5 449.3v8.4M541.3 451.5h8.4M545.5 447.3v8.4M462.3 452.5h8.4M466.5 448.3v8.4M550.3 451.5h8.4M554.5 447.3v8.4M519.3 452.5h8.4M523.5 448.3v8.4M452.3 453.5h8.4M456.5 449.3v8.4M486.3 454.5h8.4M490.5 450.3v8.4M526.3 453.5h8.4M530.5 449.3v8.4M471.3 452.5h8.4M475.5 448.3v8.4M452.3 452.5h8.4M456.5 448.3v8.4M628.3 450.5h8.4M632.5 446.3v8.4M611.3 452.5h8.4M615.5 448.3v8.4M522.3 451.5h8.4M526.5 447.3v8.4M611.3 450.5h8.4M615.5 446.3v8.4M535.3 450.5h8.4M539.5 446.3v8.4M625.3 453.5h8.4M629.5 449.3v8.4M510.3 452.5h8.4M514.5 448.3v8.4M634.3 453.5h8.4M638.5 449.3v8.4M609.3 452.5h8.4M613.5 448.3v8.4M510.3 451.5h8.4M514.5 447.3v8.4M444.3 453.5h8.4M448.5 449.3v8.4M649.3 438.5h8.4M653.5 434.3v8.4M639.3 450.5h8.4M643.5 446.3v8.4M652.3 463.5h8.4M656.5 459.3v8.4M654.3 448.5h8.4M658.5 444.3v8.4M662.3 468.5h8.4M666.5 464.3v8.4M663.3 449.5h8.4M667.5 445.3v8.4M663.3 445.5h8.4M667.5 441.3v8.4M657.3 450.5h8.4M661.5 446.3v8.4M678.3 458.5h8.4M682.5 454.3v8.4M688.3 448.5h8.4M692.5 444.3v8.4M717.3 456.5h8.4M721.5 452.3v8.4M713.3 457.5h8.4M717.5 453.3v8.4" stroke="#00bfbf" stroke-width="0.8" fill="none"/>
<path d="M324.3 101.5h8.4M328.5 97.3v8.4M324.3 181.5h8.4M328.5 177.3v8.4M378.3 196.5h8.4M382.5 192.3v8.4M352.3 221.5h8.4M356.5 217.3v8.4M328.3 247.5h8.4M332.5 243.3v8.4M317.3 261.5h8.4M321.5 257.3v8.4M320.3 282.5h8.4M324.5 278.3v8.4M368.3 298.5h8.4M372.5 294.3v8.4M342.3 316.5h8.4M346.5 312.3v8.4M350.3 327.5h8.4M354.5 323.3v8.4M316.3 337.5h8.4M320.5 333.3v8.4M353.3 348.5h8.4M357.5 344.3v8.4M313.3 358.5h8.4M317.5 354.3v8.4M418.3 359.5h8.4M422.5 355.3v8.4M313.3 365.5h8.4M317.5 361.3v8.4M314.3 370.5h8.4M318.5 366.3v8.4M369.3 373.5h8.4M373.5 369.3v8.4M340.3 384.5h8.4M344.5 380.3v8.4M347.3 402.5h8.4M351.5 398.3v8.4M322.3 393.5h8.4M326.5 389.3v8.4M319.3 406.5h8.4M323.5 402.3v8.4M312.3 421.5h8.4M316.5 417.3v8.4M321.3 432.5h8.4M325.5 428.3v8.4M497.3 209.5h8.4M501.5 205.3v8.4M542.3 209.5h8.4M546.5 205.3v8.4M496.3 233.5h8.4M500.5 229.3v8.4M574.3 241.5h8.4M578.5 237.3v8.4M469.3 251.5h8.4M473.5 247.3v8.4M495.3 282.5h8.4M499.5 278.3v8.4M468.3 304.5h8.4M472.5 300.3v8.4M629.3 204.5h8.4M633.5 200.3v8.4M615.3 296.5h8.4M619.5 292.3v8.4M612.3 334.5h8.4M616.5 330.3v8.4M621.3 377.5h8.4M625.5 373.3v8.4M603.3 389.5h8.4M607.5 385.3v8.4M632.3 407.5h8.4M636.5 403.3v8.4M665.3 427.5h8.4M669.5 423.3v8.4M689.3 431.5h8.4M693.5 427.3v8.4M625.3 408.5h8.4M629.5 404.3v8.4M707.3 467.5h8.4M711.5 463.3v8.4M709.3 450.5h8.4M713.5 446.3v8.4M656.3 429.5h8.4M660.5 425.3v8.4M684.3 458.5h8.4M688.5 454.3v8.4M673.3 469.5h8.4M677.5 465.3v8.4M658.3 459.5h8.4M662.5 455.3v8.4M466.3 193.5h8.4M470.5 189.3v8.4M516.3 67.5h8.4M520.5 63.3v8.4M445.3 323.5h8.4M449.5 319.3v8.4M469.3 393.5h8.4M473.5 389.3v8.4M512.3 420.5h8.4M516.5 416.3v8.4M517.3 466.5h8.4M521.5 462.3v8.4M524.3 435.5h8.4M528.5 431.3v8.4M479.3 312.5h8.4M483.5 308.3v8.4M516.3 313.5h8.4M520.5 309.3v8.4M543.3 306.5h8.4M547.5 302.3v8.4M490.3 348.5h8.4M494.5 344.3v8.4M493.3 370.5h8.4M497.5 366.3v8.4M491.3 378.5h8.4M495.5 374.3v8.4M500.3 386.5h8.4M504.5 382.3v8.4M494.3 401.5h8.4M498.5 397.3v8.4M480.3 415.5h8.4M484.5 411.3v8.4M512.3 423.5h8.4M516.5 419.3v8.4M519.3 430.5h8.4M523.5 426.3v8.4M528.3 249.5h8.4M532.5 245.3v8.4M574.3 245.5h8.4M578.5 241.3v8.4M532.3 265.5h8.4M536.5 261.3v8.4M551.3 269.5h8.4M555.5 265.3v8.4M573.3 271.5h8.4M577.5 267.3v8.4M531.3 278.5h8.4M535.5 274.3v8.4M562.3 278.5h8.4M566.5 274.3v8.4M527.3 290.5h8.4M531.5 286.3v8.4M573.3 286.5h8.4M577.5 282.3v8.4M561.3 294.5h8.4M565.5 290.3v8.4M500.3 318.5h8.4M504.5 314.3v8.4M524.3 322.5h8.4M528.5 318.3v8.4M525.3 335.5h8.4M529.5 331.3v8.4M529.3 340.5h8.4M533.5 336.3v8.4M541.3 322.5h8.4M545.5 318.3v8.4M548.3 336.5h8.4M552.5 332.3v8.4M548.3 342.5h8.4M552.5 338.3v8.4M538.3 348.5h8.4M542.5 344.3v8.4M518.3 353.5h8.4M522.5 349.3v8.4M532.3 357.5h8.4M536.5 353.3v8.4M542.3 358.5h8.4M546.5 354.3v8.4M592.3 305.5h8.4M596.5 301.3v8.4M559.3 316.5h8.4M563.5 312.3v8.4M560.3 335.5h8.4M564.5 331.3v8.4M561.3 343.5h8.4M565.5 339.3v8.4M587.3 432.5h8.4M591.5 428.3v8.4M581.3 398.5h8.4M585.5 394.3v8.4M565.3 373.5h8.4M569.5 369.3v8.4M609.3 450.5h8.4M613.5 446.3v8.4M600.3 453.5h8.4M604.5 449.3v8.4M560.3 424.5h8.4M564.5 420.3v8.4M532.3 377.5h8.4M536.5 373.3v8.4M547.3 415.5h8.4M551.5 411.3v8.4M551.3 409.5h8.4M555.5 405.3v8.4M603.3 403.5h8.4M607.5 399.3v8.4M607.3 413.5h8.4M611.5 409.3v8.4M596.3 398.5h8.4M600.5 394.3v8.4M610.3 406.5h8.4M614.5 402.3v8.4M628.3 432.5h8.4M632.5 428.3v8.4M549.3 409.5h8.4M553.5 405.3v8.4M629.3 431.5h8.4M633.5 427.3v8.4M557.3 384.5h8.4M561.5 380.3v8.4M626.3 450.5h8.4M630.5 446.3v8.4M626.3 451.5h8.4M630.5 447.3v8.4M545.3 363.5h8.4M549.5 359.3v8.4M582.3 421.5h8.4M586.5 417.3v8.4M580.3 432.5h8.4M584.5 428.3v8.4M640.3 435.5h8.4M644.5 431.3v8.4M611.3 432.5h8.4M615.5 428.3v8.4M528.3 443.5h8.4M532.5 439.3v8.4M545.3 367.5h8.4M549.5 363.3v8.4M518.3 437.5h8.4M522.5 433.3v8.4M570.3 445.5h8.4M574.5 441.3v8.4M582.3 385.5h8.4M586.5 381.3v8.4M622.3 442.5h8.4M626.5 438.3v8.4M589.3 440.5h8.4M593.5 436.3v8.4M566.3 379.5h8.4M570.5 375.3v8.4M572.3 415.5h8.4M576.5 411.3v8.4M536.3 377.5h8.4M540.5 373.3v8.4M598.3 405.5h8.4M602.5 401.3v8.4M546.3 438.5h8.4M550.5 434.3v8.4M569.3 408.5h8.4M573.5 404.3v8.4M599.3 456.5h8.4M603.5 452.3v8.4M544.3 425.5h8.4M548.5 421.3v8.4M615.3 457.5h8.4M619.5 453.3v8.4M636.3 452.5h8.4M640.5 448.3v8.4M561.3 405.5h8.4M565.5 401.3v8.4M607.3 439.5h8.4M611.5 435.3v8.4M634.3 437.5h8.4M638.5 433.3v8.4M552.3 411.5h8.4M556.5 407.3v8.4M636.3 448.5h8.4M640.5 444.3v8.4M544.3 364.5h8.4M548.5 360.3v8.4M548.3 418.5h8.4M552.5 414.3v8.4M539.3 424.5h8.4M543.5 420.3v8.4M590.3 404.5h8.4M594.5 400.3v8.4M627.3 448.5h8.4M631.5 444.3v8.4M551.3 402.5h8.4M555.5 398.3v8.4M562.3 387.5h8.4M566.5 383.3v8.4M607.3 473.5h8.4M611.5 469.3v8.4M540.3 421.5h8.4M544.5 417.3v8.4M561.3 370.5h8.4M565.5 366.3v8.4M557.3 431.5h8.4M561.5 427.3v8.4M633.3 448.5h8.4M637.5 444.3v8.4M567.3 395.5h8.4M571.5 391.3v8.4M566.3 452.5h8.4M570.5 448.3v8.4M618.3 416.5h8.4M622.5 412.3v8.4M562.3 380.5h8.4M566.5 376.3v8.4M565.3 421.5h8.4M569.5 417.3v8.4M540.3 412.5h8.4M544.5 408.3v8.4M617.3 444.5h8.4M621.5 440.3v8.4M574.3 389.5h8.4M578.5 385.3v8.4M589.3 429.5h8.4M593.5 425.3v8.4M628.3 433.5h8.4M632.5 429.3v8.4M518.3 380.5h8.4M522.5 376.3v8.4M552.3 369.5h8.4M556.5 365.3v8.4M610.3 408.5h8.4M614.5 404.3v8.4M551.3 381.5h8.4M555.5 377.3v8.4M605.3 417.5h8.4M609.5 413.3v8.4M604.3 453.5h8.4M608.5 449.3v8.4M564.3 375.5h8.4M568.5 371.3v8.4M578.3 450.5h8.4M582.5 446.3v8.4M584.3 438.5h8.4M588.5 434.3v8.4M604.3 411.5h8.4M608.5 407.3v8.4M630.3 425.5h8.4M634.5 421.3v8.4M551.3 434.5h8.4M555.5 430.3v8.4M550.3 365.5h8.4M554.5 361.3v8.4M577.3 434.5h8.4M581.5 430.3v8.4M587.3 435.5h8.4M591.5 431.3v8.4M561.3 367.5h8.4M565.5 363.3v8.4M559.3 428.5h8.4M563.5 424.3v8.4M539.3 375.5h8.4M543.5 371.3v8.4M591.3 418.5h8.4M595.5 414.3v8.4M586.3 416.5h8.4M590.5 412.3v8.4M585.3 396.5h8.4M589.5 392.3v8.4M613.3 422.5h8.4M617.5 418.3v8.4M547.3 368.5h8.4M551.5 364.3v8.4M552.3 394.5h8.4M556.5 390.3v8.4M586.3 411.5h8.4M590.5 407.3v8.4M589.3 422.5h8.4M593.5 418.3v8.4M523.3 441.5h8.4M527.5 437.3v8.4M551.3 415.5h8.4M555.5 411.3v8.4M609.3 397.5h8.4M613.5 393.3v8.4M531.3 434.5h8.4M535.5 430.3v8.4M528.3 363.5h8.4M532.5 359.3v8.4M581.3 375.5h8.4M585.5 371.3v8.4M639.3 449.5h8.4M643.5 445.3v8.4M580.3 452.5h8.4M584.5 448.3v8.4M589.3 421.5h8.4M593.5 417.3v8.4M635.3 441.5h8.4M639.5 437.3v8.4M569.3 406.5h8.4M573.5 402.3v8.4M587.3 455.5h8.4M591.5 451.3v8.4M581.3 380.5h8.4M585.5 376.3v8.4M533.3 401.5h8.4M537.5 397.3v8.4M537.3 398.5h8.4M541.5 394.3v8.4M625.3 445.5h8.4M629.5 441.3v8.4M550.3 427.5h8.4M554.5 423.3v8.4M634.3 447.5h8.4M638.5 443.3v8.4M557.3 419.5h8.4M561.5 415.3v8.4M587.3 396.5h8.4M591.5 392.3v8.4M552.3 369.5h8.4M556.5 365.3v8.4M588.3 408.5h8.4M592.5 404.3v8.4M551.3 407.5h8.4M555.5 403.3v8.4M549.3 366.5h8.4M553.5 362.3v8.4M568.3 422.5h8.4M572.5 418.3v8.4M599.3 397.5h8.4M603.5 393.3v8.4M526.3 428.5h8.4M530.5 424.3v8.4M637.3 447.5h8.4M641.5 443.3v8.4M549.3 368.5h8.4M553.5 364.3v8.4M585.3 399.5h8.4M589.5 395.3v8.4M617.3 446.5h8.4M621.5 442.3v8.4M541.3 445.5h8.4M545.5 441.3v8.4M561.3 354.5h8.4M565.5 350.3v8.4M607.3 434.5h8.4M611.5 430.3v8.4M586.3 391.5h8.4M590.5 387.3v8.4M610.3 457.5h8.4M614.5 453.3v8.4M542.3 445.5h8.4M546.5 441.3v8.4M552.3 453.5h8.4M556.5 449.3v8.4M564.3 454.5h8.4M568.5 450.3v8.4M564.3 429.5h8.4M568.5 425.3v8.4M578.3 381.5h8.4M582.5 377.3v8.4M566.3 393.5h8.4M570.5 389.3v8.4M591.3 415.5h8.4M595.5 411.3v8.4M574.3 426.5h8.4M578.5 422.3v8.4M547.3 401.5h8.4M551.5 397.3v8.4M520.3 447.5h8.4M524.5 443.3v8.4M567.3 382.5h8.4M571.5 378.3v8.4M545.3 390.5h8.4M549.5 386.3v8.4M562.3 396.5h8.4M566.5 392.3v8.4M580.3 444.5h8.4M584.5 440.3v8.4M631.3 434.5h8.4M635.5 430.3v8.4M565.3 456.5h8.4M569.5 452.3v8.4M593.3 406.5h8.4M597.5 402.3v8.4M607.3 432.5h8.4M611.5 428.3v8.4M600.3 424.5h8.4M604.5 420.3v8.4M558.3 449.5h8.4M562.5 445.3v8.4M618.3 423.5h8.4M622.5 419.3v8.4M578.3 466.5h8.4M582.5 462.3v8.4M541.3 360.5h8.4M545.5 356.3v8.4M596.3 442.5h8.4M600.5 438.3v8.4M580.3 375.5h8.4M584.5 371.3v8.4M559.3 421.5h8.4M563.5 417.3v8.4M622.3 451.5h8.4M626.5 447.3v8.4M535.3 448.5h8.4M539.5 444.3v8.4M611.3 447.5h8.4M615.5 443.3v8.4M616.3 451.5h8.4M620.5 447.3v8.4M608.3 432.5h8.4M612.5 428.3v8.4M591.3 440.5h8.4M595.5 436.3v8.4M598.3 409.5h8.4M602.5 405.3v8.4M625.3 440.5h8.4M629.5 436.3v8.4M595.3 418.5h8.4M599.5 414.3v8.4M540.3 443.5h8.4M544.5 439.3v8.4M562.3 426.5h8.4M566.5 422.3v8.4M528.3 380.5h8.4M532.5 376.3v8.4M571.3 450.5h8.4M575.5 446.3v8.4M572.3 378.5h8.4M576.5 374.3v8.4M560.3 381.5h8.4M564.5 377.3v8.4M612.3 415.5h8.4M616.5 411.3v8.4M537.3 374.5h8.4M541.5 370.3v8.4M555.3 420.5h8.4M559.5 416.3v8.4M559.3 446.5h8.4M563.5 442.3v8.4M575.3 409.5h8.4M579.5 405.3v8.4M632.3 433.5h8.4M636.5 429.3v8.4M550.3 450.5h8.4M554.5 446.3v8.4M536.3 447.5h8.4M540.5 443.3v8.4M508.3 452.5h8.4M512.5 448.3v8.4M585.3 452.5h8.4M589.5 448.3v8.4M491.3 451.5h8.4M495.5 447.3v8.4M485.3 450.5h8.4M489.5 446.3v8.4M472.3 452.5h8.4M476.5 448.3v8.4M536.3 451.5h8.4M540.5 447.3v8.4M540.3 452.5h8.4M544.5 448.3v8.4M461.3 450.5h8.4M465.5 446.3v8.4M450.3 451.5h8.4M454.5 447.3v8.4M460.3 451.5h8.4M464.5 447.3v8.4M591.3 453.5h8.4M595.5 449.3v8.4M572.3 451.5h8.4M576.5 447.3v8.4M467.3 453.5h8.4M471.5 449.3v8.4M626.3 453.5h8.4M630.5 449.3v8.4M553.3 452.5h8.4M557.5 448.3v8.4M533.3 453.5h8.4M537.5 449.3v8.4M618.3 452.5h8.4M622.5 448.3v8.4M454.3 452.5h8.4M458.5 448.3v8.4M485.3 451.5h8.4M489.5 447.3v8.4M473.3 452.5h8.4M477.5 448.3v8.4M566.3 450.5h8.4M570.5 446.3v8.4M482.3 452.5h8.4M486.5 448.3v8.4M558.3 451.5h8.4M562.5 447.3v8.4M462.3 451.5h8.4M466.5 447.3v8.4M496.3 453.5h8.4M500.5 449.3v8.4M457.3 451.5h8.4M461.5 447.3v8.4M618.3 454.5h8.4M622.5 450.3v8.4M634.3 452.5h8.4M638.5 448.3v8.4M622.3 451.5h8.4M626.5 447.3v8.4M485.3 452.5h8.4M489.5 448.3v8.4M568.3 452.5h8.4M572.5 448.3v8.4M452.3 451.5h8.4M456.5 447.3v8.4M518.3 453.5h8.4M522.5 449.3v8.4M546.3 452.5h8.4M550.5 448.3v8.4M542.3 454.5h8.4M546.5 450.3v8.4M581.3 453.5h8.4M585.5 449.3v8.4M618.3 452.5h8.4M622.5 448.3v8.4M444.3 453.5h8.4M448.5 449.3v8.4M491.3 454.5h8.4M495.5 450.3v8.4M603.3 451.5h8.4M607.5 447.3v8.4M485.3 453.5h8.4M489.5 449.3v8.4M588.3 451.5h8.4M592.5 447.3v8.4M576.3 453.5h8.4M580.5 449.3v8.4M525.3 453.5h8.4M529.5 449.3v8.4M542.3 453.5h8.4M546.5 449.3v8.4M567.3 451.5h8.4M571.5 447.3v8.4M498.3 451.5h8.4M502.5 447.3v8.4M523.3 453.5h8.4M527.5 449.3v8.4M627.3 452.5h8.4M631.5 448.3v8.4M603.3 451.5h8.4M607.5 447.3v8.4M559.3 453.5h8.4M563.5 449.3v8.4M511.3 451.5h8.4M515.5 447.3v8.4M525.3 453.5h8.4M529.5 449.3v8.4M605.3 450.5h8.4M609.5 446.3v8.4M557.3 452.5h8.4M561.5 448.3v8.4M477.3 454.5h8.4M481.5 450.3v8.4M489.3 453.5h8.4M493.5 449.3v8.4M522.3 451.5h8.4M526.5 447.3v8.4M464.3 450.5h8.4M468.5 446.3v8.4M448.3 453.5h8.4M452.5 449.3v8.4M582.3 452.5h8.4M586.5 448.3v8.4M451.3 453.5h8.4M455.5 449.3v8.4M551.3 450.5h8.4M555.5 446.3v8.4M587.3 452.5h8.4M591.5 448.3v8.4M559.3 453.5h8.4M563.5 449.3v8.4M550.3 453.5h8.4M554.5 449.3v8.4M614.3 451.5h8.4M618.5 447.3v8.4M460.3 452.5h8.4M464.5 448.3v8.4M445.3 452.5h8.4M449.5 448.3v8.4M566.3 452.5h8.4M570.5 448.3v8.4M499.3 453.5h8.4M503.5 449.3v8.4M519.3 451.5h8.4M523.5 447.3v8.4M449.3 449.5h8.4M453.5 445.3v8.4M555.3 452.5h8.4M559.5 448.3v8.4M538.3 450.5h8.4M542.5 446.3v8.4M553.3 450.5h8.4M557.5 446.3v8.4M532.3 450.5h8.4M536.5 446.3v8.4M482.3 451.5h8.4M486.5 447.3v8.4M477.3 450.5h8.4M481.5 446.3v8.4M460.3 454.5h8.4M464.5 450.3v8.4M486.3 454.5h8.4M490.5 450.3v8.4M449.3 452.5h8.4M453.5 448.3v8.4M545.3 452.5h8.4M549.5 448.3v8.4M498.3 453.5h8.4M502.5 449.3v8.4M625.3 451.5h8.4M629.5 447.3v8.4M523.3 452.5h8.4M527.5 448.3v8.4M607.3 452.5h8.4M611.5 448.3v8.4M548.3 453.5h8.4M552.5 449.3v8.4M633.3 451.5h8.4M637.5 447.3v8.4M526.3 452.5h8.4M530.5 448.3v8.4M471.3 451.5h8.4M475.5 447.3v8.4M612.3 452.5h8.4M616.5 448.3v8.4M616.3 453.5h8.4M620.5 449.3v8.4M466.3 452.5h8.4M470.5 448.3v8.4M587.3 452.5h8.4M591.5 448.3v8.4M537.3 452.5h8.4M541.5 448.3v8.4M606.3 451.5h8.4M610.5 447.3v8.4M635.3 450.5h8.4M639.5 446.3v8.4M519.3 452.5h8.4M523.5 448.3v8.4M602.3 452.5h8.4M606.5 448.3v8.4M618.3 452.5h8.4M622.5 448.3v8.4M559.3 452.5h8.4M563.5 448.3v8.4M529.3 451.5h8.4M533.5 447.3v8.4M645.3 451.5h8.4M649.5 447.3v8.4M648.3 452.5h8.4M652.5 448.3v8.4M639.3 443.5h8.4M643.5 439.3v8.4M646.3 449.5h8.4M650.5 445.3v8.4M660.3 451.5h8.4M664.5 447.3v8.4M673.3 456.5h8.4M677.5 452.3v8.4M661.3 451.5h8.4M665.5 447.3v8.4M662.3 454.5h8.4M666.5 450.3v8.4M695.3 445.5h8.4M699.5 441.3v8.4M676.3 457.5h8.4M680.5 453.3v8.4M714.3 450.5h8.4M718.5 446.3v8.4M713.3 447.5h8.4M717.5 443.3v8.4" stroke="#00bfbf" stroke-width="0.8" fill="none"/>
<path d="M325.3 120.5h8.4M329.5 116.3v8.4M365.3 176.5h8.4M369.5 172.3v8.4M370.3 203.5h8.4M374.5 199.3v8.4M368.3 225.5h8.4M372.5 221.3v8.4M315.3 250.5h8.4M319.5 246.3v8.4M322.3 266.5h8.4M326.5 262.3v8.4M319.3 284.5h8.4M323.5 280.3v8.4M383.3 297.5h8.4M387.5 293.3v8.4M345.3 317.5h8.4M349.5 313.3v8.4M364.3 322.5h8.4M368.5 318.3v8.4M316.3 343.5h8.4M320.5 339.3v8.4M359.3 346.5h8.4M363.5 342.3v8.4M323.3 362.5h8.4M327.5 358.3v8.4M378.3 365.5h8.4M382.5 361.3v8.4M315.3 367.5h8.4M319.5 363.3v8.4M317.3 365.5h8.4M321.5 361.3v8.4M377.3 376.5h8.4M381.5 372.3v8.4M315.3 384.5h8.4M319.5 380.3v8.4M314.3 394.5h8.4M318.5 390.3v8.4M318.3 398.5h8.4M322.5 394.3v8.4M320.3 408.5h8.4M324.5 404.3v8.4M314.3 420.5h8.4M318.5 416.3v8.4M314.3 435.5h8.4M318.5 431.3v8.4M500.3 215.5h8.4M504.5 211.3v8.4M545.3 211.5h8.4M549.5 207.3v8.4M512.3 237.5h8.4M516.5 233.3v8.4M584.3 239.5h8.4M588.5 235.3v8.4M490.3 253.5h8.4M494.5 249.3v8.4M460.3 286.5h8.4M464.5 282.3v8.4M447.3 303.5h8.4M451.5 299.3v8.4M616.3 219.5h8.4M620.5 215.3v8.4M640.3 296.5h8.4M644.5 292.3v8.4M646.3 328.5h8.4M650.5 324.3v8.4M617.3 386.5h8.4M621.5 382.3v8.4M660.3 401.5h8.4M664.5 397.3v8.4M698.3 411.5h8.4M702.5 407.3v8.4M660.3 426.5h8.4M664.5 422.3v8.4M634.3 429.5h8.4M638.5 425.3v8.4M615.3 408.5h8.4M619.5 404.3v8.4M693.3 464.5h8.4M697.5 460.3v8.4M715.3 459.5h8.4M719.5 455.3v8.4M660.3 432.5h8.4M664.5 428.3v8.4M693.3 456.5h8.4M697.5 452.3v8.4M665.3 445.5h8.4M669.5 441.3v8.4M653.3 456.5h8.4M657.5 452.3v8.4M507.3 194.5h8.4M511.5 190.3v8.4M528.3 61.5h8.4M532.5 57.3v8.4M473.3 326.5h8.4M477.5 322.3v8.4M448.3 400.5h8.4M452.5 396.3v8.4M513.3 429.5h8.4M517.5 425.3v8.4M520.3 461.5h8.4M524.5 457.3v8.4M529.3 436.5h8.4M533.5 432.3v8.4M485.3 309.5h8.4M489.5 305.3v8.4M527.3 305.5h8.4M531.5 301.3v8.4M546.3 303.5h8.4M550.5 299.3v8.4M478.3 358.5h8.4M482.5 354.3v8.4M512.3 363.5h8.4M516.5 359.3v8.4M502.3 376.5h8.4M506.5 372.3v8.4M508.3 393.5h8.4M512.5 389.3v8.4M500.3 402.5h8.4M504.5 398.3v8.4M488.3 420.5h8.4M492.5 416.3v8.4M509.3 426.5h8.4M513.5 422.3v8.4M517.3 433.5h8.4M521.5 429.3v8.4M532.3 251.5h8.4M536.5 247.3v8.4M515.3 262.5h8.4M519.5 258.3v8.4M536.3 265.5h8.4M540.5 261.3v8.4M560.3 269.5h8.4M564.5 265.3v8.4M582.3 270.5h8.4M586.5 266.3v8.4M536.3 278.5h8.4M540.5 274.3v8.4M569.3 281.5h8.4M573.5 277.3v8.4M533.3 283.5h8.4M537.5 279.3v8.4M584.3 288.5h8.4M588.5 284.3v8.4M559.3 298.5h8.4M563.5 294.3v8.4M505.3 323.5h8.4M509.5 319.3v8.4M527.3 322.5h8.4M531.5 318.3v8.4M523.3 339.5h8.4M527.5 335.3v8.4M523.3 347.5h8.4M527.5 343.3v8.4M544.3 318.5h8.4M548.5 314.3v8.4M544.3 338.5h8.4M548.5 334.3v8.4M551.3 343.5h8.4M555.5 339.3v8.4M535.3 347.5h8.4M539.5 343.3v8.4M512.3 355.5h8.4M516.5 351.3v8.4M540.3 355.5h8.4M544.5 351.3v8.4M547.3 357.5h8.4M551.5 353.3v8.4M595.3 305.5h8.4M599.5 301.3v8.4M558.3 318.5h8.4M562.5 314.3v8.4M564.3 338.5h8.4M568.5 334.3v8.4M586.3 340.5h8.4M590.5 336.3v8.4M579.3 428.5h8.4M583.5 424.3v8.4M537.3 455.5h8.4M541.5 451.3v8.4M587.3 415.5h8.4M591.5 411.3v8.4M546.3 440.5h8.4M550.5 436.3v8.4M623.3 420.5h8.4M627.5 416.3v8.4M546.3 405.5h8.4M550.5 401.3v8.4M561.3 418.5h8.4M565.5 414.3v8.4M591.3 388.5h8.4M595.5 384.3v8.4M547.3 365.5h8.4M551.5 361.3v8.4M561.3 347.5h8.4M565.5 343.3v8.4M572.3 409.5h8.4M576.5 405.3v8.4M561.3 366.5h8.4M565.5 362.3v8.4M537.3 371.5h8.4M541.5 367.3v8.4M558.3 383.5h8.4M562.5 379.3v8.4M549.3 448.5h8.4M553.5 444.3v8.4M591.3 419.5h8.4M595.5 415.3v8.4M550.3 426.5h8.4M554.5 422.3v8.4M518.3 434.5h8.4M522.5 430.3v8.4M619.3 417.5h8.4M623.5 413.3v8.4M547.3 388.5h8.4M551.5 384.3v8.4M595.3 420.5h8.4M599.5 416.3v8.4M592.3 408.5h8.4M596.5 404.3v8.4M630.3 445.5h8.4M634.5 441.3v8.4M568.3 402.5h8.4M572.5 398.3v8.4M569.3 402.5h8.4M573.5 398.3v8.4M640.3 437.5h8.4M644.5 433.3v8.4M612.3 445.5h8.4M616.5 441.3v8.4M544.3 380.5h8.4M548.5 376.3v8.4M548.3 426.5h8.4M552.5 422.3v8.4M604.3 455.5h8.4M608.5 451.3v8.4M546.3 405.5h8.4M550.5 401.3v8.4M561.3 455.5h8.4M565.5 451.3v8.4M550.3 385.5h8.4M554.5 381.3v8.4M596.3 422.5h8.4M600.5 418.3v8.4M564.3 407.5h8.4M568.5 403.3v8.4M585.3 456.5h8.4M589.5 452.3v8.4M514.3 412.5h8.4M518.5 408.3v8.4M568.3 424.5h8.4M572.5 420.3v8.4M547.3 432.5h8.4M551.5 428.3v8.4M602.3 431.5h8.4M606.5 427.3v8.4M564.3 418.5h8.4M568.5 414.3v8.4M583.3 404.5h8.4M587.5 400.3v8.4M625.3 427.5h8.4M629.5 423.3v8.4M590.3 408.5h8.4M594.5 404.3v8.4M534.3 395.5h8.4M538.5 391.3v8.4M548.3 427.5h8.4M552.5 423.3v8.4M529.3 398.5h8.4M533.5 394.3v8.4M609.3 408.5h8.4M613.5 404.3v8.4M556.3 413.5h8.4M560.5 409.3v8.4M570.3 411.5h8.4M574.5 407.3v8.4M561.3 441.5h8.4M565.5 437.3v8.4M586.3 434.5h8.4M590.5 430.3v8.4M537.3 400.5h8.4M541.5 396.3v8.4M566.3 414.5h8.4M570.5 410.3v8.4M562.3 384.5h8.4M566.5 380.3v8.4M579.3 392.5h8.4M583.5 388.3v8.4M555.3 447.5h8.4M559.5 443.3v8.4M589.3 407.5h8.4M593.5 403.3v8.4M561.3 408.5h8.4M565.5 404.3v8.4M630.3 451.5h8.4M634.5 447.3v8.4M552.3 444.5h8.4M556.5 440.3v8.4M557.3 387.5h8.4M561.5 383.3v8.4M604.3 430.5h8.4M608.5 426.3v8.4M555.3 368.5h8.4M559.5 364.3v8.4M549.3 383.5h8.4M553.5 379.3v8.4M530.3 409.5h8.4M534.5 405.3v8.4M562.3 438.5h8.4M566.5 434.3v8.4M597.3 397.5h8.4M601.5 393.3v8.4M629.3 451.5h8.4M633.5 447.3v8.4M607.3 417.5h8.4M611.5 413.3v8.4M552.3 377.5h8.4M556.5 373.3v8.4M565.3 439.5h8.4M569.5 435.3v8.4M547.3 429.5h8.4M551.5 425.3v8.4M630.3 443.5h8.4M634.5 439.3v8.4M531.3 415.5h8.4M535.5 411.3v8.4M574.3 391.5h8.4M578.5 387.3v8.4M550.3 428.5h8.4M554.5 424.3v8.4M629.3 425.5h8.4M633.5 421.3v8.4M535.3 371.5h8.4M539.5 367.3v8.4M541.3 437.5h8.4M545.5 433.3v8.4M563.3 412.5h8.4M567.5 408.3v8.4M544.3 449.5h8.4M548.5 445.3v8.4M572.3 414.5h8.4M576.5 410.3v8.4M633.3 435.5h8.4M637.5 431.3v8.4M619.3 425.5h8.4M623.5 421.3v8.4M578.3 376.5h8.4M582.5 372.3v8.4M560.3 409.5h8.4M564.5 405.3v8.4M549.3 409.5h8.4M553.5 405.3v8.4M576.3 412.5h8.4M580.5 408.3v8.4M599.3 416.5h8.4M603.5 412.3v8.4M596.3 402.5h8.4M600.5 398.3v8.4M622.3 448.5h8.4M626.5 444.3v8.4M619.3 453.5h8.4M623.5 449.3v8.4M587.3 413.5h8.4M591.5 409.3v8.4M548.3 383.5h8.4M552.5 379.3v8.4M591.3 406.5h8.4M595.5 402.3v8.4M566.3 355.5h8.4M570.5 351.3v8.4M595.3 409.5h8.4M599.5 405.3v8.4M611.3 453.5h8.4M615.5 449.3v8.4M538.3 384.5h8.4M542.5 380.3v8.4M566.3 357.5h8.4M570.5 353.3v8.4M617.3 417.5h8.4M621.5 413.3v8.4M615.3 421.5h8.4M619.5 417.3v8.4M585.3 453.5h8.4M589.5 449.3v8.4M577.3 417.5h8.4M581.5 413.3v8.4M593.3 423.5h8.4M597.5 419.3v8.4M591.3 434.5h8.4M595.5 430.3v8.4M583.3 432.5h8.4M587.5 428.3v8.4M591.3 410.5h8.4M595.5 406.3v8.4M561.3 347.5h8.4M565.5 343.3v8.4M579.3 452.5h8.4M583.5 448.3v8.4M548.3 394.5h8.4M552.5 390.3v8.4M574.3 386.5h8.4M578.5 382.3v8.4M542.3 384.5h8.4M546.5 380.3v8.4M544.3 409.5h8.4M548.5 405.3v8.4M531.3 383.5h8.4M535.5 379.3v8.4M600.3 404.5h8.4M604.5 400.3v8.4M530.3 360.5h8.4M534.5 356.3v8.4M548.3 374.5h8.4M552.5 370.3v8.4M514.3 418.5h8.4M518.5 414.3v8.4M524.3 440.5h8.4M528.5 436.3v8.4M533.3 379.5h8.4M537.5 375.3v8.4M544.3 417.5h8.4M548.5 413.3v8.4M619.3 449.5h8.4M623.5 445.3v8.4M558.3 345.5h8.4M562.5 341.3v8.4M618.3 445.5h8.4M622.5 441.3v8.4M548.3 434.5h8.4M552.5 430.3v8.4M545.3 433.5h8.4M549.5 429.3v8.4M525.3 400.5h8.4M529.5 396.3v8.4M593.3 449.5h8.4M597.5 445.3v8.4M524.3 439.5h8.4M528.5 435.3v8.4M584.3 428.5h8.4M588.5 424.3v8.4M578.3 409.5h8.4M582.5 405.3v8.4M588.3 399.5h8.4M592.5 395.3v8.4M613.3 413.5h8.4M617.5 409.3v8.4M572.3 366.5h8.4M576.5 362.3v8.4M552.3 400.5h8.4M556.5 396.3v8.4M544.3 437.5h8.4M548.5 433.3v8.4M608.3 408.5h8.4M612.5 404.3v8.4M625.3 452.5h8.4M629.5 448.3v8.4M544.3 380.5h8.4M548.5 376.3v8.4M546.3 381.5h8.4M550.5 377.3v8.4M518.3 451.5h8.4M522.5 447.3v8.4M571.3 424.5h8.4M575.5 420.3v8.4M563.3 414.5h8.4M567.5 410.3v8.4M571.3 439.5h8.4M575.5 435.3v8.4M636.3 449.5h8.4M640.5 445.3v8.4M601.3 444.5h8.4M605.5 440.3v8.4M586.3 436.5h8.4M590.5 432.3v8.4M579.3 367.5h8.4M583.5 363.3v8.4M518.3 401.5h8.4M522.5 397.3v8.4M542.3 366.5h8.4M546.5 362.3v8.4M581.3 382.5h8.4M585.5 378.3v8.4M544.3 405.5h8.4M548.5 401.3v8.4M545.3 438.5h8.4M549.5 434.3v8.4M595.3 400.5h8.4M599.5 396.3v8.4M561.3 374.5h8.4M565.5 370.3v8.4M607.3 450.5h8.4M611.5 446.3v8.4M577.3 440.5h8.4M581.5 436.3v8.4M578.3 353.5h8.4M582.5 349.3v8.4M625.3 451.5h8.4M629.5 447.3v8.4M544.3 377.5h8.4M548.5 373.3v8.4M530.3 383.5h8.4M534.5 379.3v8.4M593.3 466.5h8.4M597.5 462.3v8.4M584.3 433.5h8.4M588.5 429.3v8.4M541.3 378.5h8.4M545.5 374.3v8.4M554.3 380.5h8.4M558.5 376.3v8.4M568.3 409.5h8.4M572.5 405.3v8.4M576.3 406.5h8.4M580.5 402.3v8.4M559.3 443.5h8.4M563.5 439.3v8.4M565.3 441.5h8.4M569.5 437.3v8.4M573.3 376.5h8.4M577.5 372.3v8.4M589.3 399.5h8.4M593.5 395.3v8.4M565.3 408.5h8.4M569.5 404.3v8.4M592.3 428.5h8.4M596.5 424.3v8.4M630.3 458.5h8.4M634.5 454.3v8.4M561.3 386.5h8.4M565.5 382.3v8.4M617.3 415.5h8.4M621.5 411.3v8.4M622.3 451.5h8.4M626.5 447.3v8.4M535.3 452.5h8.4M539.5 448.3v8.4M496.3 452.5h8.4M500.5 448.3v8.4M532.3 450.5h8.4M536.5 446.3v8.4M582.3 453.5h8.4M586.5 449.3v8.4M541.3 452.5h8.4M545.5 448.3v8.4M525.3 451.5h8.4M529.5 447.3v8.4M599.3 452.5h8.4M603.5 448.3v8.4M629.3 452.5h8.4M633.5 448.3v8.4M582.3 452.5h8.4M586.5 448.3v8.4M448.3 453.5h8.4M452.5 449.3v8.4M608.3 452.5h8.4M612.5 448.3v8.4M607.3 452.5h8.4M611.5 448.3v8.4M614.3 452.5h8.4M618.5 448.3v8.4M491.3 452.5h8.4M495.5 448.3v8.4M464.3 452.5h8.4M468.5 448.3v8.4M625.3 454.5h8.4M629.5 450.3v8.4M555.3 451.5h8.4M559.5 447.3v8.4M592.3 451.5h8.4M596.5 447.3v8.4M542.3 452.5h8.4M546.5 448.3v8.4M449.3 453.5h8.4M453.5 449.3v8.4M595.3 449.5h8.4M599.5 445.3v8.4M570.3 452.5h8.4M574.5 448.3v8.4M618.3 452.5h8.4M622.5 448.3v8.4M481.3 451.5h8.4M485.5 447.3v8.4M528.3 451.5h8.4M532.5 447.3v8.4M564.3 452.5h8.4M568.5 448.3v8.4M495.3 451.5h8.4M499.5 447.3v8.4M490.3 454.5h8.4M494.5 450.3v8.4M460.3 451.5h8.4M464.5 447.3v8.4M496.3 453.5h8.4M500.5 449.3v8.4M444.3 453.5h8.4M448.5 449.3v8.4M551.3 450.5h8.4M555.5 446.3v8.4M600.3 451.5h8.4M604.5 447.3v8.4M509.3 453.5h8.4M513.5 449.3v8.4M563.3 454.5h8.4M567.5 450.3v8.4M552.3 450.5h8.4M556.5 446.3v8.4M515.3 451.5h8.4M519.5 447.3v8.4M466.3 450.5h8.4M470.5 446.3v8.4M508.3 455.5h8.4M512.5 451.3v8.4M513.3 451.5h8.4M517.5 447.3v8.4M581.3 451.5h8.4M585.5 447.3v8.4M459.3 451.5h8.4M463.5 447.3v8.4M506.3 451.5h8.4M510.5 447.3v8.4M553.3 450.5h8.4M557.5 446.3v8.4M565.3 453.5h8.4M569.5 449.3v8.4M506.3 451.5h8.4M510.5 447.3v8.4M494.3 453.5h8.4M498.5 449.3v8.4M463.3 450.5h8.4M467.5 446.3v8.4M588.3 453.5h8.4M592.5 449.3v8.4M600.3 454.5h8.4M604.5 450.3v8.4M612.3 453.5h8.4M616.5 449.3v8.4M443.3 452.5h8.4M447.5 448.3v8.4M456.3 453.5h8.4M460.5 449.3v8.4M446.3 453.5h8.4M450.5 449.3v8.4M542.3 451.5h8.4M546.5 447.3v8.4M515.3 453.5h8.4M519.5 449.3v8.4M601.3 453.5h8.4M605.5 449.3v8.4M569.3 453.5h8.4M573.5 449.3v8.4M515.3 451.5h8.4M519.5 447.3v8.4M538.3 452.5h8.4M542.5 448.3v8.4M530.3 453.5h8.4M534.5 449.3v8.4M554.3 454.5h8.4M558.5 450.3v8.4M536.3 454.5h8.4M540.5 450.3v8.4M498.3 454.5h8.4M502.5 450.3v8.4M579.3 455.5h8.4M583.5 451.3v8.4M618.3 452.5h8.4M622.5 448.3v8.4M621.3 453.5h8.4M625.5 449.3v8.4M610.3 452.5h8.4M614.5 448.3v8.4M577.3 453.5h8.4M581.5 449.3v8.4M475.3 453.5h8.4M479.5 449.3v8.4M632.3 452.5h8.4M636.5 448.3v8.4M544.3 453.5h8.4M548.5 449.3v8.4M565.3 453.5h8.4M569.5 449.3v8.4M629.3 452.5h8.4M633.5 448.3v8.4M524.3 452.5h8.4M528.5 448.3v8.4M490.3 452.5h8.4M494.5 448.3v8.4M475.3 451.5h8.4M479.5 447.3v8.4M502.3 454.5h8.4M506.5 450.3v8.4M533.3 453.5h8.4M537.5 449.3v8.4M443.3 452.5h8.4M447.5 448.3v8.4M568.3 453.5h8.4M572.5 449.3v8.4M480.3 454.5h8.4M484.5 450.3v8.4M476.3 451.5h8.4M480.5 447.3v8.4M472.3 453.5h8.4M476.5 449.3v8.4M613.3 453.5h8.4M617.5 449.3v8.4M631.3 451.5h8.4M635.5 447.3v8.4M496.3 451.5h8.4M500.5 447.3v8.4M602.3 450.5h8.4M606.5 446.3v8.4M504.3 450.5h8.4M508.5 446.3v8.4M525.3 451.5h8.4M529.5 447.3v8.4M612.3 452.5h8.4M616.5 448.3v8.4M463.3 452.5h8.4M467.5 448.3v8.4M560.3 452.5h8.4M564.5 448.3v8.4M559.3 454.5h8.4M563.5 450.3v8.4M618.3 452.5h8.4M622.5 448.3v8.4M560.3 453.5h8.4M564.5 449.3v8.4M589.3 452.5h8.4M593.5 448.3v8.4M600.3 451.5h8.4M604.5 447.3v8.4M491.3 451.5h8.4M495.5 447.3v8.4M453.3 453.5h8.4M457.5 449.3v8.4M549.3 453.5h8.4M553.5 449.3v8.4M630.3 451.5h8.4M634.5 447.3v8.4M612.3 453.5h8.4M616.5 449.3v8.4M651.3 444.5h8.4M655.5 440.3v8.4M645.3 449.5h8.4M649.5 445.3v8.4M639.3 455.5h8.4M643.5 451.3v8.4M650.3 436.5h8.4M654.5 432.3v8.4M658.3 438.5h8.4M662.5 434.3v8.4M659.3 439.5h8.4M663.5 435.3v8.4M668.3 441.5h8.4M672.5 437.3v8.4M678.3 454.5h8.4M682.5 450.3v8.4M690.3 451.5h8.4M694.5 447.3v8.4M684.3 449.5h8.4M688.5 445.3v8.4M699.3 450.5h8.4M703.5 446.3v8.4M347.3 446.5h8.4M351.5 442.3v8.4" stroke="#00bfbf" stroke-width="0.8" fill="none"/>
<path d="M311.3 163.5h8.4M315.5 159.3v8.4M369.3 176.5h8.4M373.5 172.3v8.4M240.3 229.5h8.4M244.5 225.3v8.4M360.3 237.5h8.4M364.5 233.3v8.4M380.3 245.5h8.4M384.5 241.3v8.4M326.3 270.5h8.4M330.5 266.3v8.4M374.3 292.5h8.4M378.5 288.3v8.4M368.3 306.5h8.4M372.5 302.3v8.4M287.3 318.5h8.4M291.5 314.3v8.4M367.3 325.5h8.4M371.5 321.3v8.4M317.3 345.5h8.4M321.5 341.3v8.4M378.3 344.5h8.4M382.5 340.3v8.4M344.3 363.5h8.4M348.5 359.3v8.4M381.3 365.5h8.4M385.5 361.3v8.4M316.3 369.5h8.4M320.5 365.3v8.4M320.3 367.5h8.4M324.5 363.3v8.4M382.3 378.5h8.4M386.5 374.3v8.4M320.3 388.5h8.4M324.5 384.3v8.4M316.3 393.5h8.4M320.5 389.3v8.4M320.3 400.5h8.4M324.5 396.3v8.4M378.3 414.5h8.4M382.5 410.3v8.4M318.3 417.5h8.4M322.5 413.3v8.4M557.3 205.5h8.4M561.5 201.3v8.4M524.3 209.5h8.4M528.5 205.3v8.4M452.3 215.5h8.4M456.5 211.3v8.4M515.3 240.5h8.4M519.5 236.3v8.4M595.3 231.5h8.4M599.5 227.3v8.4M443.3 263.5h8.4M447.5 259.3v8.4M470.3 287.5h8.4M474.5 283.3v8.4M473.3 308.5h8.4M477.5 304.3v8.4M660.3 230.5h8.4M664.5 226.3v8.4M662.3 304.5h8.4M666.5 300.3v8.4M680.3 335.5h8.4M684.5 331.3v8.4M619.3 390.5h8.4M623.5 386.3v8.4M660.3 405.5h8.4M664.5 401.3v8.4M638.3 417.5h8.4M642.5 413.3v8.4M669.3 430.5h8.4M673.5 426.3v8.4M630.3 432.5h8.4M634.5 428.3v8.4M626.3 414.5h8.4M630.5 410.3v8.4M689.3 431.5h8.4M693.5 427.3v8.4M716.3 467.5h8.4M720.5 463.3v8.4M646.3 435.5h8.4M650.5 431.3v8.4M696.3 459.5h8.4M700.5 455.3v8.4M662.3 443.5h8.4M666.5 439.3v8.4M649.3 448.5h8.4M653.5 444.3v8.4M509.3 198.5h8.4M513.5 194.3v8.4M539.3 67.5h8.4M543.5 63.3v8.4M450.3 344.5h8.4M454.5 340.3v8.4M463.3 414.5h8.4M467.5 410.3v8.4M450.3 432.5h8.4M454.5 428.3v8.4M549.3 468.5h8.4M553.5 464.3v8.4M436.3 315.5h8.4M440.5 311.3v8.4M486.3 317.5h8.4M490.5 313.3v8.4M533.3 313.5h8.4M537.5 309.3v8.4M549.3 305.5h8.4M553.5 301.3v8.4M483.3 360.5h8.4M487.5 356.3v8.4M514.3 370.5h8.4M518.5 366.3v8.4M485.3 384.5h8.4M489.5 380.3v8.4M510.3 386.5h8.4M514.5 382.3v8.4M496.3 408.5h8.4M500.5 404.3v8.4M485.3 424.5h8.4M489.5 420.3v8.4M512.3 432.5h8.4M516.5 428.3v8.4M523.3 424.5h8.4M527.5 420.3v8.4M539.3 256.5h8.4M543.5 252.3v8.4M514.3 265.5h8.4M518.5 261.3v8.4M539.3 262.5h8.4M543.5 258.3v8.4M579.3 263.5h8.4M583.5 259.3v8.4M508.3 276.5h8.4M512.5 272.3v8.4M536.3 281.5h8.4M540.5 277.3v8.4M504.3 288.5h8.4M508.5 284.3v8.4M544.3 285.5h8.4M548.5 281.3v8.4M538.3 294.5h8.4M542.5 290.3v8.4M557.3 299.5h8.4M561.5 295.3v8.4M515.3 327.5h8.4M519.5 323.3v8.4M529.3 326.5h8.4M533.5 322.3v8.4M526.3 339.5h8.4M530.5 335.3v8.4M530.3 345.5h8.4M534.5 341.3v8.4M547.3 317.5h8.4M551.5 313.3v8.4M553.3 332.5h8.4M557.5 328.3v8.4M554.3 341.5h8.4M558.5 337.3v8.4M545.3 350.5h8.4M549.5 346.3v8.4M511.3 359.5h8.4M515.5 355.3v8.4M544.3 354.5h8.4M548.5 350.3v8.4M553.3 358.5h8.4M557.5 354.3v8.4M596.3 304.5h8.4M600.5 300.3v8.4M568.3 317.5h8.4M572.5 313.3v8.4M570.3 336.5h8.4M574.5 332.3v8.4M590.3 339.5h8.4M594.5 335.3v8.4M619.3 438.5h8.4M623.5 434.3v8.4M550.3 378.5h8.4M554.5 374.3v8.4M556.3 428.5h8.4M560.5 424.3v8.4M552.3 366.5h8.4M556.5 362.3v8.4M547.3 443.5h8.4M551.5 439.3v8.4M586.3 416.5h8.4M590.5 412.3v8.4M576.3 400.5h8.4M580.5 396.3v8.4M604.3 405.5h8.4M608.5 401.3v8.4M603.3 422.5h8.4M607.5 418.3v8.4M600.3 408.5h8.4M604.5 404.3v8.4M622.3 443.5h8.4M626.5 439.3v8.4M529.3 380.5h8.4M533.5 376.3v8.4M623.3 466.5h8.4M627.5 462.3v8.4M552.3 439.5h8.4M556.5 435.3v8.4M539.3 452.5h8.4M543.5 448.3v8.4M608.3 423.5h8.4M612.5 419.3v8.4M619.3 457.5h8.4M623.5 453.3v8.4M597.3 436.5h8.4M601.5 432.3v8.4M551.3 409.5h8.4M555.5 405.3v8.4M625.3 422.5h8.4M629.5 418.3v8.4M619.3 440.5h8.4M623.5 436.3v8.4M561.3 420.5h8.4M565.5 416.3v8.4M523.3 377.5h8.4M527.5 373.3v8.4M535.3 438.5h8.4M539.5 434.3v8.4M565.3 377.5h8.4M569.5 373.3v8.4M631.3 459.5h8.4M635.5 455.3v8.4M629.3 441.5h8.4M633.5 437.3v8.4M587.3 449.5h8.4M591.5 445.3v8.4M560.3 445.5h8.4M564.5 441.3v8.4M571.3 379.5h8.4M575.5 375.3v8.4M570.3 448.5h8.4M574.5 444.3v8.4M570.3 361.5h8.4M574.5 357.3v8.4M619.3 447.5h8.4M623.5 443.3v8.4M527.3 389.5h8.4M531.5 385.3v8.4M565.3 416.5h8.4M569.5 412.3v8.4M576.3 383.5h8.4M580.5 379.3v8.4M571.3 380.5h8.4M575.5 376.3v8.4M553.3 365.5h8.4M557.5 361.3v8.4M595.3 441.5h8.4M599.5 437.3v8.4M598.3 408.5h8.4M602.5 404.3v8.4M560.3 416.5h8.4M564.5 412.3v8.4M541.3 410.5h8.4M545.5 406.3v8.4M616.3 441.5h8.4M620.5 437.3v8.4M576.3 418.5h8.4M580.5 414.3v8.4M616.3 429.5h8.4M620.5 425.3v8.4M584.3 444.5h8.4M588.5 440.3v8.4M542.3 426.5h8.4M546.5 422.3v8.4M536.3 383.5h8.4M540.5 379.3v8.4M581.3 380.5h8.4M585.5 376.3v8.4M552.3 399.5h8.4M556.5 395.3v8.4M594.3 403.5h8.4M598.5 399.3v8.4M584.3 400.5h8.4M588.5 396.3v8.4M570.3 412.5h8.4M574.5 408.3v8.4M542.3 383.5h8.4M546.5 379.3v8.4M568.3 455.5h8.4M572.5 451.3v8.4M588.3 423.5h8.4M592.5 419.3v8.4M531.3 368.5h8.4M535.5 364.3v8.4M567.3 394.5h8.4M571.5 390.3v8.4M598.3 411.5h8.4M602.5 407.3v8.4M542.3 365.5h8.4M546.5 361.3v8.4M567.3 448.5h8.4M571.5 444.3v8.4M634.3 460.5h8.4M638.5 456.3v8.4M543.3 433.5h8.4M547.5 429.3v8.4M552.3 392.5h8.4M556.5 388.3v8.4M558.3 388.5h8.4M562.5 384.3v8.4M573.3 450.5h8.4M577.5 446.3v8.4M535.3 386.5h8.4M539.5 382.3v8.4M602.3 412.5h8.4M606.5 408.3v8.4M598.3 396.5h8.4M602.5 392.3v8.4M545.3 393.5h8.4M549.5 389.3v8.4M594.3 403.5h8.4M598.5 399.3v8.4M603.3 448.5h8.4M607.5 444.3v8.4M589.3 406.5h8.4M593.5 402.3v8.4M617.3 427.5h8.4M621.5 423.3v8.4M548.3 395.5h8.4M552.5 391.3v8.4M561.3 447.5h8.4M565.5 443.3v8.4M566.3 382.5h8.4M570.5 378.3v8.4M521.3 426.5h8.4M525.5 422.3v8.4M602.3 415.5h8.4M606.5 411.3v8.4M587.3 437.5h8.4M591.5 433.3v8.4M570.3 434.5h8.4M574.5 430.3v8.4M559.3 370.5h8.4M563.5 366.3v8.4M528.3 431.5h8.4M532.5 427.3v8.4M558.3 382.5h8.4M562.5 378.3v8.4M623.3 464.5h8.4M627.5 460.3v8.4M632.3 453.5h8.4M636.5 449.3v8.4M634.3 436.5h8.4M638.5 432.3v8.4M587.3 389.5h8.4M591.5 385.3v8.4M605.3 425.5h8.4M609.5 421.3v8.4M561.3 413.5h8.4M565.5 409.3v8.4M548.3 392.5h8.4M552.5 388.3v8.4M607.3 415.5h8.4M611.5 411.3v8.4M555.3 448.5h8.4M559.5 444.3v8.4M610.3 434.5h8.4M614.5 430.3v8.4M556.3 423.5h8.4M560.5 419.3v8.4M568.3 372.5h8.4M572.5 368.3v8.4M545.3 453.5h8.4M549.5 449.3v8.4M618.3 425.5h8.4M622.5 421.3v8.4M629.3 451.5h8.4M633.5 447.3v8.4M625.3 444.5h8.4M629.5 440.3v8.4M607.3 459.5h8.4M611.5 455.3v8.4M599.3 440.5h8.4M603.5 436.3v8.4M539.3 403.5h8.4M543.5 399.3v8.4M539.3 397.5h8.4M543.5 393.3v8.4M571.3 418.5h8.4M575.5 414.3v8.4M609.3 464.5h8.4M613.5 460.3v8.4M605.3 416.5h8.4M609.5 412.3v8.4M547.3 400.5h8.4M551.5 396.3v8.4M634.3 439.5h8.4M638.5 435.3v8.4M532.3 385.5h8.4M536.5 381.3v8.4M595.3 417.5h8.4M599.5 413.3v8.4M563.3 428.5h8.4M567.5 424.3v8.4M527.3 433.5h8.4M531.5 429.3v8.4M624.3 448.5h8.4M628.5 444.3v8.4M554.3 384.5h8.4M558.5 380.3v8.4M582.3 381.5h8.4M586.5 377.3v8.4M582.3 416.5h8.4M586.5 412.3v8.4M566.3 444.5h8.4M570.5 440.3v8.4M592.3 420.5h8.4M596.5 416.3v8.4M575.3 369.5h8.4M579.5 365.3v8.4M590.3 400.5h8.4M594.5 396.3v8.4M537.3 439.5h8.4M541.5 435.3v8.4M536.3 416.5h8.4M540.5 412.3v8.4M572.3 399.5h8.4M576.5 395.3v8.4M609.3 408.5h8.4M613.5 404.3v8.4M576.3 385.5h8.4M580.5 381.3v8.4M543.3 399.5h8.4M547.5 395.3v8.4M545.3 374.5h8.4M549.5 370.3v8.4M575.3 404.5h8.4M579.5 400.3v8.4M533.3 388.5h8.4M537.5 384.3v8.4M554.3 430.5h8.4M558.5 426.3v8.4M576.3 398.5h8.4M580.5 394.3v8.4M560.3 361.5h8.4M564.5 357.3v8.4M564.3 370.5h8.4M568.5 366.3v8.4M545.3 374.5h8.4M549.5 370.3v8.4M609.3 423.5h8.4M613.5 419.3v8.4M543.3 450.5h8.4M547.5 446.3v8.4M620.3 451.5h8.4M624.5 447.3v8.4M556.3 370.5h8.4M560.5 366.3v8.4M557.3 379.5h8.4M561.5 375.3v8.4M558.3 418.5h8.4M562.5 414.3v8.4M617.3 423.5h8.4M621.5 419.3v8.4M598.3 464.5h8.4M602.5 460.3v8.4M586.3 434.5h8.4M590.5 430.3v8.4M527.3 390.5h8.4M531.5 386.3v8.4M612.3 424.5h8.4M616.5 420.3v8.4M604.3 419.5h8.4M608.5 415.3v8.4M569.3 451.5h8.4M573.5 447.3v8.4M592.3 392.5h8.4M596.5 388.3v8.4M537.3 379.5h8.4M541.5 375.3v8.4M590.3 451.5h8.4M594.5 447.3v8.4M570.3 422.5h8.4M574.5 418.3v8.4M603.3 459.5h8.4M607.5 455.3v8.4M579.3 383.5h8.4M583.5 379.3v8.4M578.3 449.5h8.4M582.5 445.3v8.4M624.3 419.5h8.4M628.5 415.3v8.4M548.3 414.5h8.4M552.5 410.3v8.4M553.3 449.5h8.4M557.5 445.3v8.4M583.3 399.5h8.4M587.5 395.3v8.4M535.3 371.5h8.4M539.5 367.3v8.4M571.3 376.5h8.4M575.5 372.3v8.4M538.3 365.5h8.4M542.5 361.3v8.4M575.3 437.5h8.4M579.5 433.3v8.4M556.3 442.5h8.4M560.5 438.3v8.4M633.3 453.5h8.4M637.5 449.3v8.4M582.3 431.5h8.4M586.5 427.3v8.4M553.3 366.5h8.4M557.5 362.3v8.4M559.3 361.5h8.4M563.5 357.3v8.4M617.3 448.5h8.4M621.5 444.3v8.4M592.3 411.5h8.4M596.5 407.3v8.4M566.3 356.5h8.4M570.5 352.3v8.4M533.3 423.5h8.4M537.5 419.3v8.4M566.3 395.5h8.4M570.5 391.3v8.4M560.3 395.5h8.4M564.5 391.3v8.4M542.3 373.5h8.4M546.5 369.3v8.4M547.3 410.5h8.4M551.5 406.3v8.4M581.3 432.5h8.4M585.5 428.3v8.4M598.3 416.5h8.4M602.5 412.3v8.4M625.3 455.5h8.4M629.5 451.3v8.4M523.3 450.5h8.4M527.5 446.3v8.4M455.3 451.5h8.4M459.5 447.3v8.4M442.3 452.5h8.4M446.5 448.3v8.4M458.3 452.5h8.4M462.5 448.3v8.4M552.3 452.5h8.4M556.5 448.3v8.4M602.3 450.5h8.4M606.5 446.3v8.4M468.3 453.5h8.4M472.5 449.3v8.4M492.3 453.5h8.4M496.5 449.3v8.4M632.3 453.5h8.4M636.5 449.3v8.4M506.3 451.5h8.4M510.5 447.3v8.4M455.3 451.5h8.4M459.5 447.3v8.4M519.3 451.5h8.4M523.5 447.3v8.4M494.3 451.5h8.4M498.5 447.3v8.4M564.3 452.5h8.4M568.5 448.3v8.4M465.3 453.5h8.4M469.5 449.3v8.4M578.3 452.5h8.4M582.5 448.3v8.4M516.3 453.5h8.4M520.5 449.3v8.4M612.3 453.5h8.4M616.5 449.3v8.4M461.3 449.5h8.4M465.5 445.3v8.4M460.3 453.5h8.4M464.5 449.3v8.4M468.3 451.5h8.4M472.5 447.3v8.4M501.3 452.5h8.4M505.5 448.3v8.4M446.3 452.5h8.4M450.5 448.3v8.4M442.3 453.5h8.4M446.5 449.3v8.4M576.3 453.5h8.4M580.5 449.3v8.4M544.3 453.5h8.4M548.5 449.3v8.4M472.3 452.5h8.4M476.5 448.3v8.4M561.3 453.5h8.4M565.5 449.3v8.4M585.3 451.5h8.4M589.5 447.3v8.4M587.3 452.5h8.4M591.5 448.3v8.4M611.3 454.5h8.4M615.5 450.3v8.4M493.3 451.5h8.4M497.5 447.3v8.4M453.3 450.5h8.4M457.5 446.3v8.4M518.3 451.5h8.4M522.5 447.3v8.4M617.3 452.5h8.4M621.5 448.3v8.4M484.3 451.5h8.4M488.5 447.3v8.4M568.3 452.5h8.4M572.5 448.3v8.4M583.3 452.5h8.4M587.5 448.3v8.4M576.3 452.5h8.4M580.5 448.3v8.4M524.3 452.5h8.4M528.5 448.3v8.4M450.3 452.5h8.4M454.5 448.3v8.4M529.3 451.5h8.4M533.5 447.3v8.4M563.3 451.5h8.4M567.5 447.3v8.4M490.3 453.5h8.4M494.5 449.3v8.4M495.3 452.5h8.4M499.5 448.3v8.4M524.3 454.5h8.4M528.5 450.3v8.4M506.3 451.5h8.4M510.5 447.3v8.4M563.3 451.5h8.4M567.5 447.3v8.4M517.3 451.5h8.4M521.5 447.3v8.4M625.3 453.5h8.4M629.5 449.3v8.4M527.3 452.5h8.4M531.5 448.3v8.4M447.3 453.5h8.4M451.5 449.3v8.4M450.3 452.5h8.4M454.5 448.3v8.4M517.3 450.5h8.4M521.5 446.3v8.4M599.3 453.5h8.4M603.5 449.3v8.4M560.3 455.5h8.4M564.5 451.3v8.4M612.3 453.5h8.4M616.5 449.3v8.4M450.3 452.5h8.4M454.5 448.3v8.4M591.3 450.5h8.4M595.5 446.3v8.4M601.3 451.5h8.4M605.5 447.3v8.4M470.3 454.5h8.4M474.5 450.3v8.4M489.3 453.5h8.4M493.5 449.3v8.4M524.3 451.5h8.4M528.5 447.3v8.4M517.3 452.5h8.4M521.5 448.3v8.4M602.3 452.5h8.4M606.5 448.3v8.4M565.3 453.5h8.4M569.5 449.3v8.4M599.3 450.5h8.4M603.5 446.3v8.4M622.3 453.5h8.4M626.5 449.3v8.4M525.3 454.5h8.4M529.5 450.3v8.4M550.3 452.5h8.4M554.5 448.3v8.4M617.3 451.5h8.4M621.5 447.3v8.4M611.3 452.5h8.4M615.5 448.3v8.4M445.3 451.5h8.4M449.5 447.3v8.4M622.3 453.5h8.4M626.5 449.3v8.4M471.3 454.5h8.4M475.5 450.3v8.4M603.3 451.5h8.4M607.5 447.3v8.4M576.3 452.5h8.4M580.5 448.3v8.4M597.3 454.5h8.4M601.5 450.3v8.4M442.3 452.5h8.4M446.5 448.3v8.4M526.3 451.5h8.4M530.5 447.3v8.4M538.3 453.5h8.4M542.5 449.3v8.4M480.3 452.5h8.4M484.5 448.3v8.4M615.3 452.5h8.4M619.5 448.3v8.4M590.3 453.5h8.4M594.5 449.3v8.4M621.3 452.5h8.4M625.5 448.3v8.4M567.3 453.5h8.4M571.5 449.3v8.4M617.3 454.5h8.4M621.5 450.3v8.4M499.3 454.5h8.4M503.5 450.3v8.4M609.3 453.5h8.4M613.5 449.3v8.4M589.3 453.5h8.4M593.5 449.3v8.4M489.3 453.5h8.4M493.5 449.3v8.4M626.3 452.5h8.4M630.5 448.3v8.4M524.3 453.5h8.4M528.5 449.3v8.4M516.3 452.5h8.4M520.5 448.3v8.4M477.3 453.5h8.4M481.5 449.3v8.4M586.3 455.5h8.4M590.5 451.3v8.4M481.3 450.5h8.4M485.5 446.3v8.4M468.3 452.5h8.4M472.5 448.3v8.4M566.3 453.5h8.4M570.5 449.3v8.4M629.3 450.5h8.4M633.5 446.3v8.4M554.3 450.5h8.4M558.5 446.3v8.4M509.3 451.5h8.4M513.5 447.3v8.4M627.3 453.5h8.4M631.5 449.3v8.4M650.3 440.5h8.4M654.5 436.3v8.4M649.3 449.5h8.4M653.5 445.3v8.4M644.3 440.5h8.4M648.5 436.3v8.4M655.3 439.5h8.4M659.5 435.3v8.4M663.3 446.5h8.4M667.5 442.3v8.4M656.3 438.5h8.4M660.5 434.3v8.4M668.3 447.5h8.4M672.5 443.3v8.4M691.3 452.5h8.4M695.5 448.3v8.4M691.3 443.5h8.4M695.5 439.3v8.4M689.3 453.5h8.4M693.5 449.3v8.4M710.3 456.5h8.4M714.5 452.3v8.4M370.3 447.5h8.4M374.5 443.3v8.4" stroke="#00bfbf" stroke-width="0.8" fill="none"/>
<path d="M336.3 164.5h8.4M340.5 160.3v8.4M363.3 195.5h8.4M367.5 191.3v8.4M370.3 207.5h8.4M374.5 203.3v8.4M362.3 238.5h8.4M366.5 234.3v8.4M389.3 245.5h8.4M393.5 241.3v8.4M365.3 262.5h8.4M369.5 258.3v8.4M322.3 298.5h8.4M326.5 294.3v8.4M368.3 307.5h8.4M372.5 303.3v8.4M380.3 318.5h8.4M384.5 314.3v8.4M378.3 328.5h8.4M382.5 324.3v8.4M350.3 338.5h8.4M354.5 334.3v8.4M381.3 343.5h8.4M385.5 339.3v8.4M365.3 363.5h8.4M369.5 359.3v8.4M383.3 366.5h8.4M387.5 362.3v8.4M318.3 368.5h8.4M322.5 364.3v8.4M318.3 373.5h8.4M322.5 369.3v8.4M357.3 380.5h8.4M361.5 376.3v8.4M347.3 390.5h8.4M351.5 386.3v8.4M317.3 395.5h8.4M321.5 391.3v8.4M318.3 402.5h8.4M322.5 398.3v8.4M413.3 372.5h8.4M417.5 368.3v8.4M324.3 419.5h8.4M328.5 415.3v8.4M575.3 204.5h8.4M579.5 200.3v8.4M514.3 218.5h8.4M518.5 214.3v8.4M452.3 230.5h8.4M456.5 226.3v8.4M518.3 239.5h8.4M522.5 235.3v8.4M446.3 243.5h8.4M450.5 239.3v8.4M461.3 267.5h8.4M465.5 263.3v8.4M481.3 292.5h8.4M485.5 288.3v8.4M600.3 202.5h8.4M604.5 198.3v8.4M639.3 269.5h8.4M643.5 265.3v8.4M618.3 312.5h8.4M622.5 308.3v8.4M645.3 368.5h8.4M649.5 364.3v8.4M626.3 385.5h8.4M630.5 381.3v8.4M658.3 409.5h8.4M662.5 405.3v8.4M642.3 423.5h8.4M646.5 419.3v8.4M672.3 434.5h8.4M676.5 430.3v8.4M635.3 434.5h8.4M639.5 430.3v8.4M650.3 473.5h8.4M654.5 469.3v8.4M687.3 438.5h8.4M691.5 434.3v8.4M669.3 429.5h8.4M673.5 425.3v8.4M651.3 438.5h8.4M655.5 434.3v8.4M675.3 452.5h8.4M679.5 448.3v8.4M665.3 459.5h8.4M669.5 455.3v8.4M643.3 452.5h8.4M647.5 448.3v8.4M714.3 157.5h8.4M718.5 153.3v8.4M541.3 69.5h8.4M545.5 65.3v8.4M465.3 358.5h8.4M469.5 354.3v8.4M470.3 421.5h8.4M474.5 417.3v8.4M472.3 431.5h8.4M476.5 427.3v8.4M512.3 427.5h8.4M516.5 423.3v8.4M437.3 328.5h8.4M441.5 324.3v8.4M497.3 311.5h8.4M501.5 307.3v8.4M534.3 311.5h8.4M538.5 307.3v8.4M552.3 303.5h8.4M556.5 299.3v8.4M501.3 360.5h8.4M505.5 356.3v8.4M518.3 360.5h8.4M522.5 356.3v8.4M488.3 390.5h8.4M492.5 386.3v8.4M512.3 393.5h8.4M516.5 389.3v8.4M494.3 411.5h8.4M498.5 407.3v8.4M489.3 423.5h8.4M493.5 419.3v8.4M482.3 435.5h8.4M486.5 431.3v8.4M516.3 251.5h8.4M520.5 247.3v8.4M545.3 251.5h8.4M549.5 247.3v8.4M511.3 268.5h8.4M515.5 264.3v8.4M539.3 266.5h8.4M543.5 262.3v8.4M582.3 266.5h8.4M586.5 262.3v8.4M501.3 281.5h8.4M505.5 277.3v8.4M545.3 279.5h8.4M549.5 275.3v8.4M511.3 290.5h8.4M515.5 286.3v8.4M544.3 282.5h8.4M548.5 278.3v8.4M544.3 295.5h8.4M548.5 291.3v8.4M505.3 299.5h8.4M509.5 295.3v8.4M517.3 327.5h8.4M521.5 323.3v8.4M531.3 327.5h8.4M535.5 323.3v8.4M521.3 343.5h8.4M525.5 339.3v8.4M536.3 318.5h8.4M540.5 314.3v8.4M552.3 322.5h8.4M556.5 318.3v8.4M551.3 336.5h8.4M555.5 332.3v8.4M550.3 347.5h8.4M554.5 343.3v8.4M501.3 352.5h8.4M505.5 348.3v8.4M523.3 351.5h8.4M527.5 347.3v8.4M548.3 352.5h8.4M552.5 348.3v8.4M538.3 359.5h8.4M542.5 355.3v8.4M569.3 310.5h8.4M573.5 306.3v8.4M571.3 321.5h8.4M575.5 317.3v8.4M577.3 338.5h8.4M581.5 334.3v8.4M582.3 344.5h8.4M586.5 340.3v8.4M602.3 436.5h8.4M606.5 432.3v8.4M562.3 425.5h8.4M566.5 421.3v8.4M612.3 424.5h8.4M616.5 420.3v8.4M531.3 406.5h8.4M535.5 402.3v8.4M618.3 437.5h8.4M622.5 433.3v8.4M595.3 397.5h8.4M599.5 393.3v8.4M564.3 427.5h8.4M568.5 423.3v8.4M577.3 393.5h8.4M581.5 389.3v8.4M557.3 407.5h8.4M561.5 403.3v8.4M579.3 443.5h8.4M583.5 439.3v8.4M540.3 447.5h8.4M544.5 443.3v8.4M559.3 358.5h8.4M563.5 354.3v8.4M588.3 415.5h8.4M592.5 411.3v8.4M585.3 437.5h8.4M589.5 433.3v8.4M605.3 473.5h8.4M609.5 469.3v8.4M550.3 387.5h8.4M554.5 383.3v8.4M608.3 412.5h8.4M612.5 408.3v8.4M540.3 390.5h8.4M544.5 386.3v8.4M567.3 416.5h8.4M571.5 412.3v8.4M605.3 414.5h8.4M609.5 410.3v8.4M543.3 405.5h8.4M547.5 401.3v8.4M631.3 435.5h8.4M635.5 431.3v8.4M596.3 393.5h8.4M600.5 389.3v8.4M545.3 372.5h8.4M549.5 368.3v8.4M603.3 403.5h8.4M607.5 399.3v8.4M569.3 402.5h8.4M573.5 398.3v8.4M531.3 391.5h8.4M535.5 387.3v8.4M602.3 403.5h8.4M606.5 399.3v8.4M625.3 450.5h8.4M629.5 446.3v8.4M547.3 405.5h8.4M551.5 401.3v8.4M579.3 456.5h8.4M583.5 452.3v8.4M580.3 386.5h8.4M584.5 382.3v8.4M570.3 399.5h8.4M574.5 395.3v8.4M570.3 396.5h8.4M574.5 392.3v8.4M535.3 406.5h8.4M539.5 402.3v8.4M546.3 391.5h8.4M550.5 387.3v8.4M538.3 392.5h8.4M542.5 388.3v8.4M535.3 383.5h8.4M539.5 379.3v8.4M582.3 386.5h8.4M586.5 382.3v8.4M552.3 431.5h8.4M556.5 427.3v8.4M601.3 420.5h8.4M605.5 416.3v8.4M580.3 407.5h8.4M584.5 403.3v8.4M618.3 425.5h8.4M622.5 421.3v8.4M582.3 456.5h8.4M586.5 452.3v8.4M587.3 438.5h8.4M591.5 434.3v8.4M578.3 376.5h8.4M582.5 372.3v8.4M557.3 409.5h8.4M561.5 405.3v8.4M524.3 426.5h8.4M528.5 422.3v8.4M562.3 444.5h8.4M566.5 440.3v8.4M629.3 427.5h8.4M633.5 423.3v8.4M542.3 417.5h8.4M546.5 413.3v8.4M627.3 450.5h8.4M631.5 446.3v8.4M619.3 454.5h8.4M623.5 450.3v8.4M593.3 408.5h8.4M597.5 404.3v8.4M635.3 445.5h8.4M639.5 441.3v8.4M546.3 394.5h8.4M550.5 390.3v8.4M555.3 367.5h8.4M559.5 363.3v8.4M634.3 459.5h8.4M638.5 455.3v8.4M574.3 400.5h8.4M578.5 396.3v8.4M559.3 444.5h8.4M563.5 440.3v8.4M615.3 439.5h8.4M619.5 435.3v8.4M568.3 426.5h8.4M572.5 422.3v8.4M539.3 447.5h8.4M543.5 443.3v8.4M589.3 400.5h8.4M593.5 396.3v8.4M544.3 403.5h8.4M548.5 399.3v8.4M562.3 448.5h8.4M566.5 444.3v8.4M555.3 439.5h8.4M559.5 435.3v8.4M579.3 450.5h8.4M583.5 446.3v8.4M586.3 431.5h8.4M590.5 427.3v8.4M548.3 395.5h8.4M552.5 391.3v8.4M613.3 429.5h8.4M617.5 425.3v8.4M596.3 394.5h8.4M600.5 390.3v8.4M564.3 423.5h8.4M568.5 419.3v8.4M519.3 456.5h8.4M523.5 452.3v8.4M550.3 376.5h8.4M554.5 372.3v8.4M582.3 459.5h8.4M586.5 455.3v8.4M532.3 382.5h8.4M536.5 378.3v8.4M632.3 445.5h8.4M636.5 441.3v8.4M579.3 445.5h8.4M583.5 441.3v8.4M544.3 455.5h8.4M548.5 451.3v8.4M552.3 434.5h8.4M556.5 430.3v8.4M591.3 416.5h8.4M595.5 412.3v8.4M528.3 373.5h8.4M532.5 369.3v8.4M538.3 454.5h8.4M542.5 450.3v8.4M564.3 414.5h8.4M568.5 410.3v8.4M611.3 408.5h8.4M615.5 404.3v8.4M557.3 378.5h8.4M561.5 374.3v8.4M590.3 462.5h8.4M594.5 458.3v8.4M566.3 404.5h8.4M570.5 400.3v8.4M598.3 414.5h8.4M602.5 410.3v8.4M553.3 425.5h8.4M557.5 421.3v8.4M568.3 420.5h8.4M572.5 416.3v8.4M592.3 403.5h8.4M596.5 399.3v8.4M553.3 372.5h8.4M557.5 368.3v8.4M573.3 392.5h8.4M577.5 388.3v8.4M609.3 455.5h8.4M613.5 451.3v8.4M582.3 371.5h8.4M586.5 367.3v8.4M555.3 444.5h8.4M559.5 440.3v8.4M560.3 455.5h8.4M564.5 451.3v8.4M588.3 434.5h8.4M592.5 430.3v8.4M557.3 423.5h8.4M561.5 419.3v8.4M595.3 398.5h8.4M599.5 394.3v8.4M587.3 460.5h8.4M591.5 456.3v8.4M592.3 395.5h8.4M596.5 391.3v8.4M549.3 439.5h8.4M553.5 435.3v8.4M553.3 435.5h8.4M557.5 431.3v8.4M551.3 388.5h8.4M555.5 384.3v8.4M589.3 405.5h8.4M593.5 401.3v8.4M594.3 400.5h8.4M598.5 396.3v8.4M560.3 410.5h8.4M564.5 406.3v8.4M570.3 403.5h8.4M574.5 399.3v8.4M541.3 409.5h8.4M545.5 405.3v8.4M573.3 392.5h8.4M577.5 388.3v8.4M543.3 406.5h8.4M547.5 402.3v8.4M545.3 366.5h8.4M549.5 362.3v8.4M592.3 449.5h8.4M596.5 445.3v8.4M604.3 416.5h8.4M608.5 412.3v8.4M537.3 360.5h8.4M541.5 356.3v8.4M621.3 425.5h8.4M625.5 421.3v8.4M614.3 454.5h8.4M618.5 450.3v8.4M561.3 387.5h8.4M565.5 383.3v8.4M611.3 461.5h8.4M615.5 457.3v8.4M530.3 397.5h8.4M534.5 393.3v8.4M538.3 391.5h8.4M542.5 387.3v8.4M585.3 450.5h8.4M589.5 446.3v8.4M584.3 392.5h8.4M588.5 388.3v8.4M571.3 412.5h8.4M575.5 408.3v8.4M560.3 432.5h8.4M564.5 428.3v8.4M581.3 400.5h8.4M585.5 396.3v8.4M597.3 416.5h8.4M601.5 412.3v8.4M617.3 447.5h8.4M621.5 443.3v8.4M592.3 432.5h8.4M596.5 428.3v8.4M592.3 427.5h8.4M596.5 423.3v8.4M572.3 407.5h8.4M576.5 403.3v8.4M590.3 426.5h8.4M594.5 422.3v8.4M565.3 415.5h8.4M569.5 411.3v8.4M556.3 452.5h8.4M560.5 448.3v8.4M582.3 360.5h8.4M586.5 356.3v8.4M551.3 408.5h8.4M555.5 404.3v8.4M600.3 457.5h8.4M604.5 453.3v8.4M564.3 427.5h8.4M568.5 423.3v8.4M600.3 447.5h8.4M604.5 443.3v8.4M571.3 434.5h8.4M575.5 430.3v8.4M566.3 360.5h8.4M570.5 356.3v8.4M633.3 431.5h8.4M637.5 427.3v8.4M525.3 396.5h8.4M529.5 392.3v8.4M528.3 397.5h8.4M532.5 393.3v8.4M632.3 438.5h8.4M636.5 434.3v8.4M605.3 454.5h8.4M609.5 450.3v8.4M564.3 427.5h8.4M568.5 423.3v8.4M565.3 364.5h8.4M569.5 360.3v8.4M560.3 412.5h8.4M564.5 408.3v8.4M578.3 423.5h8.4M582.5 419.3v8.4M583.3 442.5h8.4M587.5 438.3v8.4M525.3 378.5h8.4M529.5 374.3v8.4M543.3 398.5h8.4M547.5 394.3v8.4M536.3 384.5h8.4M540.5 380.3v8.4M592.3 432.5h8.4M596.5 428.3v8.4M523.3 441.5h8.4M527.5 437.3v8.4M544.3 424.5h8.4M548.5 420.3v8.4M568.3 348.5h8.4M572.5 344.3v8.4M558.3 364.5h8.4M562.5 360.3v8.4M541.3 405.5h8.4M545.5 401.3v8.4M577.3 382.5h8.4M581.5 378.3v8.4M584.3 400.5h8.4M588.5 396.3v8.4M537.3 387.5h8.4M541.5 383.3v8.4M562.3 412.5h8.4M566.5 408.3v8.4M612.3 456.5h8.4M616.5 452.3v8.4M553.3 416.5h8.4M557.5 412.3v8.4M578.3 396.5h8.4M582.5 392.3v8.4M573.3 430.5h8.4M577.5 426.3v8.4M614.3 429.5h8.4M618.5 425.3v8.4M553.3 370.5h8.4M557.5 366.3v8.4M589.3 405.5h8.4M593.5 401.3v8.4M584.3 401.5h8.4M588.5 397.3v8.4M553.3 443.5h8.4M557.5 439.3v8.4M626.3 448.5h8.4M630.5 444.3v8.4M619.3 426.5h8.4M623.5 422.3v8.4M521.3 452.5h8.4M525.5 448.3v8.4M521.3 452.5h8.4M525.5 448.3v8.4M574.3 452.5h8.4M578.5 448.3v8.4M508.3 453.5h8.4M512.5 449.3v8.4M627.3 454.5h8.4M631.5 450.3v8.4M446.3 453.5h8.4M450.5 449.3v8.4M501.3 452.5h8.4M505.5 448.3v8.4M578.3 450.5h8.4M582.5 446.3v8.4M633.3 452.5h8.4M637.5 448.3v8.4M458.3 450.5h8.4M462.5 446.3v8.4M504.3 452.5h8.4M508.5 448.3v8.4M532.3 453.5h8.4M536.5 449.3v8.4M484.3 452.5h8.4M488.5 448.3v8.4M632.3 453.5h8.4M636.5 449.3v8.4M635.3 451.5h8.4M639.5 447.3v8.4M634.3 452.5h8.4M638.5 448.3v8.4M445.3 454.5h8.4M449.5 450.3v8.4M571.3 451.5h8.4M575.5 447.3v8.4M501.3 452.5h8.4M505.5 448.3v8.4M583.3 451.5h8.4M587.5 447.3v8.4M581.3 450.5h8.4M585.5 446.3v8.4M497.3 453.5h8.4M501.5 449.3v8.4M494.3 451.5h8.4M498.5 447.3v8.4M496.3 454.5h8.4M500.5 450.3v8.4M612.3 452.5h8.4M616.5 448.3v8.4M505.3 454.5h8.4M509.5 450.3v8.4M610.3 451.5h8.4M614.5 447.3v8.4M452.3 452.5h8.4M456.5 448.3v8.4M456.3 452.5h8.4M460.5 448.3v8.4M581.3 453.5h8.4M585.5 449.3v8.4M623.3 452.5h8.4M627.5 448.3v8.4M511.3 452.5h8.4M515.5 448.3v8.4M632.3 452.5h8.4M636.5 448.3v8.4M497.3 451.5h8.4M501.5 447.3v8.4M559.3 451.5h8.4M563.5 447.3v8.4M541.3 451.5h8.4M545.5 447.3v8.4M503.3 452.5h8.4M507.5 448.3v8.4M560.3 450.5h8.4M564.5 446.3v8.4M489.3 452.5h8.4M493.5 448.3v8.4M508.3 453.5h8.4M512.5 449.3v8.4M625.3 453.5h8.4M629.5 449.3v8.4M504.3 453.5h8.4M508.5 449.3v8.4M506.3 450.5h8.4M510.5 446.3v8.4M507.3 453.5h8.4M511.5 449.3v8.4M502.3 453.5h8.4M506.5 449.3v8.4M486.3 452.5h8.4M490.5 448.3v8.4M554.3 453.5h8.4M558.5 449.3v8.4M487.3 451.5h8.4M491.5 447.3v8.4M461.3 453.5h8.4M465.5 449.3v8.4M468.3 452.5h8.4M472.5 448.3v8.4M478.3 449.5h8.4M482.5 445.3v8.4M485.3 452.5h8.4M489.5 448.3v8.4M487.3 450.5h8.4M491.5 446.3v8.4M473.3 453.5h8.4M477.5 449.3v8.4M628.3 450.5h8.4M632.5 446.3v8.4M480.3 453.5h8.4M484.5 449.3v8.4M480.3 453.5h8.4M484.5 449.3v8.4M499.3 455.5h8.4M503.5 451.3v8.4M574.3 453.5h8.4M578.5 449.3v8.4M616.3 452.5h8.4M620.5 448.3v8.4M505.3 452.5h8.4M509.5 448.3v8.4M472.3 452.5h8.4M476.5 448.3v8.4M625.3 452.5h8.4M629.5 448.3v8.4M611.3 453.5h8.4M615.5 449.3v8.4M568.3 452.5h8.4M572.5 448.3v8.4M620.3 451.5h8.4M624.5 447.3v8.4M604.3 451.5h8.4M608.5 447.3v8.4M483.3 456.5h8.4M487.5 452.3v8.4M442.3 451.5h8.4M446.5 447.3v8.4M483.3 451.5h8.4M487.5 447.3v8.4M570.3 451.5h8.4M574.5 447.3v8.4M456.3 454.5h8.4M460.5 450.3v8.4M558.3 451.5h8.4M562.5 447.3v8.4M591.3 453.5h8.4M595.5 449.3v8.4M556.3 450.5h8.4M560.5 446.3v8.4M559.3 452.5h8.4M563.5 448.3v8.4M554.3 450.5h8.4M558.5 446.3v8.4M599.3 451.5h8.4M603.5 447.3v8.4M445.3 453.5h8.4M449.5 449.3v8.4M576.3 451.5h8.4M580.5 447.3v8.4M443.3 452.5h8.4M447.5 448.3v8.4M466.3 451.5h8.4M470.5 447.3v8.4M627.3 453.5h8.4M631.5 449.3v8.4M595.3 452.5h8.4M599.5 448.3v8.4M523.3 453.5h8.4M527.5 449.3v8.4M563.3 450.5h8.4M567.5 446.3v8.4M529.3 453.5h8.4M533.5 449.3v8.4M615.3 449.5h8.4M619.5 445.3v8.4M566.3 452.5h8.4M570.5 448.3v8.4M589.3 451.5h8.4M593.5 447.3v8.4M477.3 452.5h8.4M481.5 448.3v8.4M543.3 450.5h8.4M547.5 446.3v8.4M528.3 451.5h8.4M532.5 447.3v8.4M610.3 451.5h8.4M614.5 447.3v8.4M617.3 451.5h8.4M621.5 447.3v8.4M454.3 454.5h8.4M458.5 450.3v8.4M497.3 452.5h8.4M501.5 448.3v8.4M607.3 454.5h8.4M611.5 450.3v8.4M466.3 453.5h8.4M470.5 449.3v8.4M629.3 451.5h8.4M633.5 447.3v8.4M471.3 451.5h8.4M475.5 447.3v8.4M503.3 452.5h8.4M507.5 448.3v8.4M634.3 451.5h8.4M638.5 447.3v8.4M640.3 466.5h8.4M644.5 462.3v8.4M652.3 447.5h8.4M656.5 443.3v8.4M645.3 439.5h8.4M649.5 435.3v8.4M641.3 444.5h8.4M645.5 440.3v8.4M651.3 448.5h8.4M655.5 444.3v8.4M662.3 451.5h8.4M666.5 447.3v8.4M675.3 458.5h8.4M679.5 454.3v8.4M657.3 450.5h8.4M661.5 446.3v8.4M690.3 450.5h8.4M694.5 446.3v8.4M683.3 444.5h8.4M687.5 440.3v8.4M696.3 450.5h8.4M700.5 446.3v8.4M717.3 439.5h8.4M721.5 435.3v8.4M434.3 445.5h8.4M438.5 441.3v8.4" stroke="#00bfbf" stroke-width="0.8" fill="none"/>
<path d="M436.3 311.3l8.34 8.34M436.3 319.7l8.34 -8.34M437.3 324.3l8.34 8.34M437.3 332.7l8.34 -8.34M414.3 368.3l8.34 8.34M414.3 376.7l8.34 -8.34M423.3 370.3l8.34 8.34M423.3 378.7l8.34 -8.34M423.3 373.3l8.34 8.34M423.3 381.7l8.34 -8.34M396.3 393.3l8.34 8.34M396.3 401.7l8.34 -8.34M374.3 448.3l8.34 8.34M374.3 456.7l8.34 -8.34M423.3 448.3l8.34 8.34M423.3 456.7l8.34 -8.34M405.3 448.3l8.34 8.34M405.3 456.7l8.34 -8.34M364.3 448.3l8.34 8.34M364.3 456.7l8.34 -8.34M418.3 446.3l8.34 8.34M418.3 454.7l8.34 -8.34M376.3 448.3l8.34 8.34M376.3 456.7l8.34 -8.34M336.3 449.3l8.34 8.34M336.3 457.7l8.34 -8.34M418.3 448.3l8.34 8.34M418.3 456.7l8.34 -8.34M378.3 449.3l8.34 8.34M378.3 457.7l8.34 -8.34M356.3 448.3l8.34 8.34M356.3 456.7l8.34 -8.34M421.3 447.3l8.34 8.34M421.3 455.7l8.34 -8.34M372.3 449.3l8.34 8.34M372.3 457.7l8.34 -8.34M346.3 448.3l8.34 8.34M346.3 456.7l8.34 -8.34M325.3 448.3l8.34 8.34M325.3 456.7l8.34 -8.34M437.3 448.3l8.34 8.34M437.3 456.7l8.34 -8.34M373.3 450.3l8.34 8.34M373.3 458.7l8.34 -8.34M428.3 448.3l8.34 8.34M428.3 456.7l8.34 -8.34M325.3 448.3l8.34 8.34M325.3 456.7l8.34 -8.34M431.3 448.3l8.34 8.34M431.3 456.7l8.34 -8.34M389.3 447.3l8.34 8.34M389.3 455.7l8.34 -8.34M365.3 449.3l8.34 8.34M365.3 457.7l8.34 -8.34M331.3 449.3l8.34 8.34M331.3 457.7l8.34 -8.34M436.3 447.3l8.34 8.34M436.3 455.7l8.34 -8.34M397.3 448.3l8.34 8.34M397.3 456.7l8.34 -8.34M370.3 447.3l8.34 8.34M370.3 455.7l8.34 -8.34M337.3 446.3l8.34 8.34M337.3 454.7l8.34 -8.34M417.3 449.3l8.34 8.34M417.3 457.7l8.34 -8.34M351.3 448.3l8.34 8.34M351.3 456.7l8.34 -8.34M413.3 448.3l8.34 8.34M413.3 456.7l8.34 -8.34M361.3 447.3l8.34 8.34M361.3 455.7l8.34 -8.34M338.3 449.3l8.34 8.34M338.3 457.7l8.34 -8.34M363.3 447.3l8.34 8.34M363.3 455.7l8.34 -8.34M409.3 449.3l8.34 8.34M409.3 457.7l8.34 -8.34M353.3 448.3l8.34 8.34M353.3 456.7l8.34 -8.34M431.3 447.3l8.34 8.34M431.3 455.7l8.34 -8.34M353.3 449.3l8.34 8.34M353.3 457.7l8.34 -8.34M348.3 446.3l8.34 8.34M348.3 454.7l8.34 -8.34M394.3 450.3l8.34 8.34M394.3 458.7l8.34 -8.34M336.3 446.3l8.34 8.34M336.3 454.7l8.34 -8.34M423.3 448.3l8.34 8.34M423.3 456.7l8.34 -8.34M347.3 448.3l8.34 8.34M347.3 456.7l8.34 -8.34M432.3 448.3l8.34 8.34M432.3 456.7l8.34 -8.34M436.3 449.3l8.34 8.34M436.3 457.7l8.34 -8.34M352.3 449.3l8.34 8.34M352.3 457.7l8.34 -8.34M411.3 449.3l8.34 8.34M411.3 457.7l8.34 -8.34M392.3 448.3l8.34 8.34M392.3 456.7l8.34 -8.34M427.3 449.3l8.34 8.34M427.3 457.7l8.34 -8.34M399.3 448.3l8.34 8.34M399.3 456.7l8.34 -8.34M429.3 447.3l8.34 8.34M429.3 455.7l8.34 -8.34M374.3 449.3l8.34 8.34M374.3 457.7l8.34 -8.34M328.3 448.3l8.34 8.34M328.3 456.7l8.34 -8.34M414.3 448.3l8.34 8.34M414.3 456.7l8.34 -8.34M379.3 449.3l8.34 8.34M379.3 457.7l8.34 -8.34M409.3 448.3l8.34 8.34M409.3 456.7l8.34 -8.34M406.3 448.3l8.34 8.34M406.3 456.7l8.34 -8.34M329.3 448.3l8.34 8.34M329.3 456.7l8.34 -8.34M413.3 450.3l8.34 8.34M413.3 458.7l8.34 -8.34M431.3 447.3l8.34 8.34M431.3 455.7l8.34 -8.34M346.3 447.3l8.34 8.34M346.3 455.7l8.34 -8.34M429.3 450.3l8.34 8.34M429.3 458.7l8.34 -8.34M328.3 449.3l8.34 8.34M328.3 457.7l8.34 -8.34M403.3 447.3l8.34 8.34M403.3 455.7l8.34 -8.34M399.3 448.3l8.34 8.34M399.3 456.7l8.34 -8.34M413.3 447.3l8.34 8.34M413.3 455.7l8.34 -8.34M342.3 448.3l8.34 8.34M342.3 456.7l8.34 -8.34M350.3 449.3l8.34 8.34M350.3 457.7l8.34 -8.34M425.3 448.3l8.34 8.34M425.3 456.7l8.34 -8.34M344.3 448.3l8.34 8.34M344.3 456.7l8.34 -8.34M397.3 447.3l8.34 8.34M397.3 455.7l8.34 -8.34M431.3 447.3l8.34 8.34M431.3 455.7l8.34 -8.34M399.3 449.3l8.34 8.34M399.3 457.7l8.34 -8.34M436.3 448.3l8.34 8.34M436.3 456.7l8.34 -8.34M353.3 447.3l8.34 8.34M353.3 455.7l8.34 -8.34M344.3 448.3l8.34 8.34M344.3 456.7l8.34 -8.34M394.3 448.3l8.34 8.34M394.3 456.7l8.34 -8.34M379.3 450.3l8.34 8.34M379.3 458.7l8.34 -8.34M420.3 448.3l8.34 8.34M420.3 456.7l8.34 -8.34M322.3 448.3l8.34 8.34M322.3 456.7l8.34 -8.34M355.3 448.3l8.34 8.34M355.3 456.7l8.34 -8.34M358.3 448.3l8.34 8.34M358.3 456.7l8.34 -8.34M372.3 450.3l8.34 8.34M372.3 458.7l8.34 -8.34M343.3 448.3l8.34 8.34M343.3 456.7l8.34 -8.34M334.3 448.3l8.34 8.34M334.3 456.7l8.34 -8.34M431.3 449.3l8.34 8.34M431.3 457.7l8.34 -8.34M396.3 448.3l8.34 8.34M396.3 456.7l8.34 -8.34M348.3 449.3l8.34 8.34M348.3 457.7l8.34 -8.34M342.3 449.3l8.34 8.34M342.3 457.7l8.34 -8.34M323.3 448.3l8.34 8.34M323.3 456.7l8.34 -8.34M421.3 449.3l8.34 8.34M421.3 457.7l8.34 -8.34M415.3 448.3l8.34 8.34M415.3 456.7l8.34 -8.34M346.3 447.3l8.34 8.34M346.3 455.7l8.34 -8.34M407.3 447.3l8.34 8.34M407.3 455.7l8.34 -8.34M345.3 448.3l8.34 8.34M345.3 456.7l8.34 -8.34M415.3 449.3l8.34 8.34M415.3 457.7l8.34 -8.34M379.3 448.3l8.34 8.34M379.3 456.7l8.34 -8.34M431.3 448.3l8.34 8.34M431.3 456.7l8.34 -8.34M361.3 448.3l8.34 8.34M361.3 456.7l8.34 -8.34M385.3 450.3l8.34 8.34M385.3 458.7l8.34 -8.34M401.3 447.3l8.34 8.34M401.3 455.7l8.34 -8.34M359.3 448.3l8.34 8.34M359.3 456.7l8.34 -8.34M336.3 448.3l8.34 8.34M336.3 456.7l8.34 -8.34M357.3 449.3l8.34 8.34M357.3 457.7l8.34 -8.34M328.3 447.3l8.34 8.34M328.3 455.7l8.34 -8.34M320.3 447.3l8.34 8.34M320.3 455.7l8.34 -8.34M359.3 448.3l8.34 8.34M359.3 456.7l8.34 -8.34M375.3 448.3l8.34 8.34M375.3 456.7l8.34 -8.34M378.3 448.3l8.34 8.34M378.3 456.7l8.34 -8.34M324.3 447.3l8.34 8.34M324.3 455.7l8.34 -8.34M332.3 448.3l8.34 8.34M332.3 456.7l8.34 -8.34M346.3 448.3l8.34 8.34M346.3 456.7l8.34 -8.34M347.3 448.3l8.34 8.34M347.3 456.7l8.34 -8.34M356.3 450.3l8.34 8.34M356.3 458.7l8.34 -8.34M386.3 448.3l8.34 8.34M386.3 456.7l8.34 -8.34M377.3 448.3l8.34 8.34M377.3 456.7l8.34 -8.34M360.3 446.3l8.34 8.34M360.3 454.7l8.34 -8.34M406.3 450.3l8.34 8.34M406.3 458.7l8.34 -8.34M433.3 447.3l8.34 8.34M433.3 455.7l8.34 -8.34M381.3 449.3l8.34 8.34M381.3 457.7l8.34 -8.34M387.3 448.3l8.34 8.34M387.3 456.7l8.34 -8.34M325.3 447.3l8.34 8.34M325.3 455.7l8.34 -8.34M352.3 448.3l8.34 8.34M352.3 456.7l8.34 -8.34M411.3 449.3l8.34 8.34M411.3 457.7l8.34 -8.34M428.3 448.3l8.34 8.34M428.3 456.7l8.34 -8.34M331.3 449.3l8.34 8.34M331.3 457.7l8.34 -8.34M409.3 448.3l8.34 8.34M409.3 456.7l8.34 -8.34M402.3 447.3l8.34 8.34M402.3 455.7l8.34 -8.34M411.3 449.3l8.34 8.34M411.3 457.7l8.34 -8.34M334.3 447.3l8.34 8.34M334.3 455.7l8.34 -8.34M399.3 449.3l8.34 8.34M399.3 457.7l8.34 -8.34M377.3 447.3l8.34 8.34M377.3 455.7l8.34 -8.34M378.3 450.3l8.34 8.34M378.3 458.7l8.34 -8.34M409.3 449.3l8.34 8.34M409.3 457.7l8.34 -8.34M428.3 448.3l8.34 8.34M428.3 456.7l8.34 -8.34M357.3 448.3l8.34 8.34M357.3 456.7l8.34 -8.34M398.3 448.3l8.34 8.34M398.3 456.7l8.34 -8.34M357.3 447.3l8.34 8.34M357.3 455.7l8.34 -8.34M426.3 448.3l8.34 8.34M426.3 456.7l8.34 -8.34M409.3 447.3l8.34 8.34M409.3 455.7l8.34 -8.34M362.3 449.3l8.34 8.34M362.3 457.7l8.34 -8.34M321.3 448.3l8.34 8.34M321.3 456.7l8.34 -8.34M372.3 450.3l8.34 8.34M372.3 458.7l8.34 -8.34M347.3 447.3l8.34 8.34M347.3 455.7l8.34 -8.34M333.3 448.3l8.34 8.34M333.3 456.7l8.34 -8.34M340.3 448.3l8.34 8.34M340.3 456.7l8.34 -8.34M347.3 448.3l8.34 8.34M347.3 456.7l8.34 -8.34M362.3 448.3l8.34 8.34M362.3 456.7l8.34 -8.34M358.3 448.3l8.34 8.34M358.3 456.7l8.34 -8.34M344.3 447.3l8.34 8.34M344.3 455.7l8.34 -8.34M340.3 449.3l8.34 8.34M340.3 457.7l8.34 -8.34M437.3 449.3l8.34 8.34M437.3 457.7l8.34 -8.34M396.3 449.3l8.34 8.34M396.3 457.7l8.34 -8.34M377.3 449.3l8.34 8.34M377.3 457.7l8.34 -8.34M360.3 447.3l8.34 8.34M360.3 455.7l8.34 -8.34M379.3 448.3l8.34 8.34M379.3 456.7l8.34 -8.34M365.3 447.3l8.34 8.34M365.3 455.7l8.34 -8.34M364.3 449.3l8.34 8.34M364.3 457.7l8.34 -8.34M438.3 450.3l8.34 8.34M438.3 458.7l8.34 -8.34M355.3 448.3l8.34 8.34M355.3 456.7l8.34 -8.34M328.3 449.3l8.34 8.34M328.3 457.7l8.34 -8.34M350.3 450.3l8.34 8.34M350.3 458.7l8.34 -8.34M368.3 446.3l8.34 8.34M368.3 454.7l8.34 -8.34M327.3 448.3l8.34 8.34M327.3 456.7l8.34 -8.34M412.3 447.3l8.34 8.34M412.3 455.7l8.34 -8.34M358.3 448.3l8.34 8.34M358.3 456.7l8.34 -8.34M434.3 449.3l8.34 8.34M434.3 457.7l8.34 -8.34M351.3 450.3l8.34 8.34M351.3 458.7l8.34 -8.34M440.3 449.3l8.34 8.34M440.3 457.7l8.34 -8.34M422.3 448.3l8.34 8.34M422.3 456.7l8.34 -8.34M419.3 447.3l8.34 8.34M419.3 455.7l8.34 -8.34M428.3 447.3l8.34 8.34M428.3 455.7l8.34 -8.34M341.3 449.3l8.34 8.34M341.3 457.7l8.34 -8.34M396.3 446.3l8.34 8.34M396.3 454.7l8.34 -8.34M335.3 447.3l8.34 8.34M335.3 455.7l8.34 -8.34M439.3 449.3l8.34 8.34M439.3 457.7l8.34 -8.34M353.3 447.3l8.34 8.34M353.3 455.7l8.34 -8.34M344.3 448.3l8.34 8.34M344.3 456.7l8.34 -8.34M435.3 449.3l8.34 8.34M435.3 457.7l8.34 -8.34M418.3 448.3l8.34 8.34M418.3 456.7l8.34 -8.34M432.3 448.3l8.34 8.34M432.3 456.7l8.34 -8.34M439.3 447.3l8.34 8.34M439.3 455.7l8.34 -8.34M368.3 449.3l8.34 8.34M368.3 457.7l8.34 -8.34M408.3 448.3l8.34 8.34M408.3 456.7l8.34 -8.34M420.3 448.3l8.34 8.34M420.3 456.7l8.34 -8.34M351.3 449.3l8.34 8.34M351.3 457.7l8.34 -8.34M386.3 448.3l8.34 8.34M386.3 456.7l8.34 -8.34M432.3 448.3l8.34 8.34M432.3 456.7l8.34 -8.34M326.3 447.3l8.34 8.34M326.3 455.7l8.34 -8.34M379.3 448.3l8.34 8.34M379.3 456.7l8.34 -8.34M333.3 447.3l8.34 8.34M333.3 455.7l8.34 -8.34M363.3 447.3l8.34 8.34M363.3 455.7l8.34 -8.34M369.3 448.3l8.34 8.34M369.3 456.7l8.34 -8.34M368.3 449.3l8.34 8.34M368.3 457.7l8.34 -8.34M364.3 448.3l8.34 8.34M364.3 456.7l8.34 -8.34M333.3 449.3l8.34 8.34M333.3 457.7l8.34 -8.34M390.3 450.3l8.34 8.34M390.3 458.7l8.34 -8.34M426.3 448.3l8.34 8.34M426.3 456.7l8.34 -8.34M430.3 447.3l8.34 8.34M430.3 455.7l8.34 -8.34M419.3 448.3l8.34 8.34M419.3 456.7l8.34 -8.34M409.3 448.3l8.34 8.34M409.3 456.7l8.34 -8.34M344.3 449.3l8.34 8.34M344.3 457.7l8.34 -8.34M366.3 448.3l8.34 8.34M366.3 456.7l8.34 -8.34M320.3 449.3l8.34 8.34M320.3 457.7l8.34 -8.34M419.3 449.3l8.34 8.34M419.3 457.7l8.34 -8.34M333.3 448.3l8.34 8.34M333.3 456.7l8.34 -8.34M364.3 447.3l8.34 8.34M364.3 455.7l8.34 -8.34M414.3 448.3l8.34 8.34M414.3 456.7l8.34 -8.34M381.3 449.3l8.34 8.34M381.3 457.7l8.34 -8.34M332.3 447.3l8.34 8.34M332.3 455.7l8.34 -8.34M371.3 448.3l8.34 8.34M371.3 456.7l8.34 -8.34M402.3 449.3l8.34 8.34M402.3 457.7l8.34 -8.34M329.3 449.3l8.34 8.34M329.3 457.7l8.34 -8.34M364.3 449.3l8.34 8.34M364.3 457.7l8.34 -8.34M325.3 449.3l8.34 8.34M325.3 457.7l8.34 -8.34M425.3 450.3l8.34 8.34M425.3 458.7l8.34 -8.34M339.3 447.3l8.34 8.34M339.3 455.7l8.34 -8.34M371.3 448.3l8.34 8.34M371.3 456.7l8.34 -8.34M439.3 448.3l8.34 8.34M439.3 456.7l8.34 -8.34M436.3 447.3l8.34 8.34M436.3 455.7l8.34 -8.34M338.3 447.3l8.34 8.34M338.3 455.7l8.34 -8.34M373.3 448.3l8.34 8.34M373.3 456.7l8.34 -8.34M393.3 449.3l8.34 8.34M393.3 457.7l8.34 -8.34M421.3 448.3l8.34 8.34M421.3 456.7l8.34 -8.34M414.3 446.3l8.34 8.34M414.3 454.7l8.34 -8.34M437.3 447.3l8.34 8.34M437.3 455.7l8.34 -8.34M405.3 449.3l8.34 8.34M405.3 457.7l8.34 -8.34M397.3 447.3l8.34 8.34M397.3 455.7l8.34 -8.34M417.3 448.3l8.34 8.34M417.3 456.7l8.34 -8.34M379.3 449.3l8.34 8.34M379.3 457.7l8.34 -8.34M401.3 449.3l8.34 8.34M401.3 457.7l8.34 -8.34M396.3 447.3l8.34 8.34M396.3 455.7l8.34 -8.34M343.3 447.3l8.34 8.34M343.3 455.7l8.34 -8.34M439.3 447.3l8.34 8.34M439.3 455.7l8.34 -8.34M338.3 449.3l8.34 8.34M338.3 457.7l8.34 -8.34M424.3 448.3l8.34 8.34M424.3 456.7l8.34 -8.34M383.3 448.3l8.34 8.34M383.3 456.7l8.34 -8.34M376.3 448.3l8.34 8.34M376.3 456.7l8.34 -8.34M428.3 447.3l8.34 8.34M428.3 455.7l8.34 -8.34M334.3 447.3l8.34 8.34M334.3 455.7l8.34 -8.34M371.3 448.3l8.34 8.34M371.3 456.7l8.34 -8.34M422.3 446.3l8.34 8.34M422.3 454.7l8.34 -8.34M349.3 448.3l8.34 8.34M349.3 456.7l8.34 -8.34M369.3 449.3l8.34 8.34M369.3 457.7l8.34 -8.34M408.3 447.3l8.34 8.34M408.3 455.7l8.34 -8.34M337.3 448.3l8.34 8.34M337.3 456.7l8.34 -8.34M335.3 448.3l8.34 8.34M335.3 456.7l8.34 -8.34M429.3 449.3l8.34 8.34M429.3 457.7l8.34 -8.34M402.3 447.3l8.34 8.34M402.3 455.7l8.34 -8.34M389.3 448.3l8.34 8.34M389.3 456.7l8.34 -8.34M434.3 449.3l8.34 8.34M434.3 457.7l8.34 -8.34M335.3 447.3l8.34 8.34M335.3 455.7l8.34 -8.34M322.3 447.3l8.34 8.34M322.3 455.7l8.34 -8.34M356.3 450.3l8.34 8.34M356.3 458.7l8.34 -8.34M403.3 449.3l8.34 8.34M403.3 457.7l8.34 -8.34M333.3 448.3l8.34 8.34M333.3 456.7l8.34 -8.34M350.3 448.3l8.34 8.34M350.3 456.7l8.34 -8.34M361.3 449.3l8.34 8.34M361.3 457.7l8.34 -8.34M427.3 448.3l8.34 8.34M427.3 456.7l8.34 -8.34M412.3 448.3l8.34 8.34M412.3 456.7l8.34 -8.34M368.3 448.3l8.34 8.34M368.3 456.7l8.34 -8.34M358.3 447.3l8.34 8.34M358.3 455.7l8.34 -8.34M347.3 442.3l8.34 8.34M347.3 450.7l8.34 -8.34M370.3 443.3l8.34 8.34M370.3 451.7l8.34 -8.34M434.3 441.3l8.34 8.34M434.3 449.7l8.34 -8.34" stroke="#0000ff" stroke-width="0.95" fill="none"/>
<g fill="#000"><circle cx="327.6" cy="452.7" r="4.6"/><circle cx="328.9" cy="452.5" r="4.6"/><circle cx="330.2" cy="452.0" r="4.6"/><circle cx="331.5" cy="452.6" r="4.6"/><circle cx="332.8" cy="452.3" r="4.6"/><circle cx="334.1" cy="451.9" r="4.6"/><circle cx="335.4" cy="452.1" r="4.6"/><circle cx="346.2" cy="452.2" r="4.6"/><circle cx="347.5" cy="452.4" r="4.6"/><circle cx="348.8" cy="452.8" r="4.6"/><circle cx="350.1" cy="452.6" r="4.6"/><circle cx="351.4" cy="452.8" r="4.6"/><circle cx="352.7" cy="452.7" r="4.6"/><circle cx="354.0" cy="452.0" r="4.6"/><circle cx="355.3" cy="452.8" r="4.6"/><circle cx="356.6" cy="451.9" r="4.6"/><circle cx="357.9" cy="452.0" r="4.6"/><circle cx="359.2" cy="452.0" r="4.6"/><circle cx="360.5" cy="452.5" r="4.6"/><circle cx="361.8" cy="452.7" r="4.6"/><circle cx="363.1" cy="452.5" r="4.6"/><circle cx="364.4" cy="452.0" r="4.6"/><circle cx="365.7" cy="452.7" r="4.6"/><circle cx="367.0" cy="452.0" r="4.6"/><circle cx="368.3" cy="452.7" r="4.6"/><circle cx="369.6" cy="452.2" r="4.6"/><circle cx="370.9" cy="452.7" r="4.6"/><circle cx="372.2" cy="452.4" r="4.6"/><circle cx="373.5" cy="452.5" r="4.6"/><circle cx="374.8" cy="452.1" r="4.6"/><circle cx="376.1" cy="451.9" r="4.6"/><circle cx="377.4" cy="452.8" r="4.6"/><circle cx="378.7" cy="451.9" r="4.6"/><circle cx="380.0" cy="452.2" r="4.6"/><circle cx="381.3" cy="452.7" r="4.6"/><circle cx="382.6" cy="451.8" r="4.6"/><circle cx="383.9" cy="452.7" r="4.6"/><circle cx="385.2" cy="452.0" r="4.6"/><circle cx="386.5" cy="452.4" r="4.6"/><circle cx="387.8" cy="452.4" r="4.6"/><circle cx="404.4" cy="452.3" r="4.6"/><circle cx="383.0" cy="457.0" r="4.6"/><circle cx="332.0" cy="454.0" r="4.6"/></g>
<path d="M100.6 452.4H720" stroke="#0000ff" stroke-width="1.39" stroke-dasharray="8.33 8.33" fill="none"/>
</g>
<rect x="100.5" y="60.5" width="620" height="479.9" fill="none" stroke="#000" stroke-width="1.2"/>
<path d="M100.50 540.5v-6.1M183.50 540.5v-6.1M265.50 540.5v-6.1M348.50 540.5v-6.1M431.50 540.5v-6.1M513.50 540.5v-6.1M596.50 540.5v-6.1M679.50 540.5v-6.1M136.50 60.5v6.1M219.50 60.5v6.1M302.50 60.5v6.1M384.50 60.5v6.1M467.50 60.5v6.1M550.50 60.5v6.1M632.50 60.5v6.1M715.50 60.5v6.1M100.5 540.5h6.1M720.5 540.5h-6.1M100.5 420.5h6.1M720.5 420.5h-6.1M100.5 300.5h6.1M720.5 300.5h-6.1M100.5 180.5h6.1M720.5 180.5h-6.1M100.5 60.5h6.1M720.5 60.5h-6.1" stroke="#000" stroke-width="0.85" fill="none"/>
<g font-family="'DejaVu Sans', 'Liberation Sans', sans-serif" fill="#000">
<text transform="translate(100.60,559.90) scale(0.93,1)" font-size="17.3px" text-anchor="middle">−20</text>
<text transform="translate(183.27,559.90) scale(0.93,1)" font-size="17.3px" text-anchor="middle">−18</text>
<text transform="translate(265.93,559.90) scale(0.93,1)" font-size="17.3px" text-anchor="middle">−16</text>
<text transform="translate(348.60,559.90) scale(0.93,1)" font-size="17.3px" text-anchor="middle">−14</text>
<text transform="translate(431.27,559.90) scale(0.93,1)" font-size="17.3px" text-anchor="middle">−12</text>
<text transform="translate(513.94,559.90) scale(0.93,1)" font-size="17.3px" text-anchor="middle">−10</text>
<text transform="translate(596.60,559.90) scale(0.93,1)" font-size="17.3px" text-anchor="middle">−8</text>
<text transform="translate(679.27,559.90) scale(0.93,1)" font-size="17.3px" text-anchor="middle">−6</text>
<text transform="translate(136.60,50.20) scale(0.93,1)" font-size="17.3px" text-anchor="middle">14</text>
<text transform="translate(219.27,50.20) scale(0.93,1)" font-size="17.3px" text-anchor="middle">16</text>
<text transform="translate(301.93,50.20) scale(0.93,1)" font-size="17.3px" text-anchor="middle">18</text>
<text transform="translate(384.60,50.20) scale(0.93,1)" font-size="17.3px" text-anchor="middle">20</text>
<text transform="translate(467.27,50.20) scale(0.93,1)" font-size="17.3px" text-anchor="middle">22</text>
<text transform="translate(549.94,50.20) scale(0.93,1)" font-size="17.3px" text-anchor="middle">24</text>
<text transform="translate(632.60,50.20) scale(0.93,1)" font-size="17.3px" text-anchor="middle">26</text>
<text transform="translate(715.27,50.20) scale(0.93,1)" font-size="17.3px" text-anchor="middle">28</text>
<text transform="translate(95.80,545.10) scale(0.93,1)" font-size="17.3px" text-anchor="end">0</text>
<text transform="translate(95.80,425.10) scale(0.93,1)" font-size="17.3px" text-anchor="end">5</text>
<text transform="translate(95.80,305.10) scale(0.93,1)" font-size="17.3px" text-anchor="end">10</text>
<text transform="translate(95.80,185.10) scale(0.93,1)" font-size="17.3px" text-anchor="end">15</text>
<text transform="translate(95.80,65.10) scale(0.93,1)" font-size="17.3px" text-anchor="end">20</text>
<text transform="translate(411.00,583.70) scale(0.96,1)" font-size="17.3px" text-anchor="middle">magnitude (bottom:isnt / top:calib)</text>
<text transform="translate(64.00,300.00) rotate(-90) scale(0.96,1)" font-size="17.3px" text-anchor="middle">FWHM (pix)</text>
<text transform="translate(411.30,28.80) scale(1.033,1)" font-size="19.4px" text-anchor="middle">FWHM vs magnitudes</text>
<rect x="398.3" y="70.5" width="312.4" height="121.2" fill="#fff" stroke="#000" stroke-width="1.39"/>
<path d="M408.3 86.5h8.4M412.5 82.3v8.4M436.3 86.5h8.4M440.5 82.3v8.4" stroke="#00bfbf" stroke-width="0.8" fill="none"/>
<path d="M408.3 111.3l8.34 8.34M408.3 119.7l8.34 -8.34M436.3 111.3l8.34 8.34M436.3 119.7l8.34 -8.34" stroke="#0000ff" stroke-width="0.95" fill="none"/>
<circle cx="412.5" cy="144.5" r="4.6"/><circle cx="440.2" cy="144.5" r="4.6"/>
<path d="M412.5 173.7H440.3" stroke="#0000ff" stroke-width="1.39" stroke-dasharray="8.33 8.33" fill="none"/>
<text transform="translate(462.50,93.40) scale(1.033,1)" font-size="19.4px" text-anchor="start">all sample</text>
<text transform="translate(462.50,122.40) scale(1.033,1)" font-size="19.4px" text-anchor="start">sample for rough FWHM</text>
<text transform="translate(462.50,151.40) scale(1.033,1)" font-size="19.4px" text-anchor="start">coarse PSF-like sample</text>
<text transform="translate(462.50,180.40) scale(1.033,1)" font-size="19.4px" text-anchor="start">tentative FWHM</text>
</g>
</svg>
</body></html>
